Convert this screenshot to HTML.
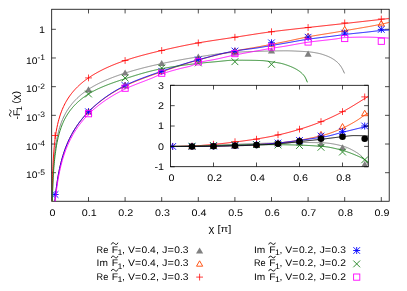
<!DOCTYPE html>
<html><head><meta charset="utf-8"><title>plot</title>
<style>html,body{margin:0;padding:0;background:#fff;width:407px;height:291px;overflow:hidden}</style></head>
<body>
<svg width="407" height="291" viewBox="0 0 407 291" style="display:block;position:absolute;left:0;top:0" font-family="Liberation Sans, sans-serif" font-size="9.6px" fill="#000" stroke-width="0.95" text-rendering="geometricPrecision">
<rect width="407" height="291" fill="#fff"/>
<defs><clipPath id="cm"><rect x="51.7" y="9.25" width="337.5" height="192.0"/></clipPath><clipPath id="ci"><rect x="170.5" y="85.3" width="197.8" height="81.39999999999999"/></clipPath></defs>
<path d="M88.50,201.25v-4.2M88.50,9.25v4.2M125.10,201.25v-4.2M125.10,9.25v4.2M161.70,201.25v-4.2M161.70,9.25v4.2M198.30,201.25v-4.2M198.30,9.25v4.2M234.90,201.25v-4.2M234.90,9.25v4.2M271.50,201.25v-4.2M271.50,9.25v4.2M308.10,201.25v-4.2M308.10,9.25v4.2M344.70,201.25v-4.2M344.70,9.25v4.2M381.30,201.25v-4.2M381.30,9.25v4.2M51.7,29.30h4.2M389.2,29.30h-4.2M51.7,57.98h4.2M389.2,57.98h-4.2M51.7,86.66h4.2M389.2,86.66h-4.2M51.7,115.34h4.2M389.2,115.34h-4.2M51.7,144.02h4.2M389.2,144.02h-4.2M51.7,172.70h4.2M389.2,172.70h-4.2" stroke="#000" stroke-width="0.7" fill="none"/>
<rect x="51.7" y="9.25" width="337.5" height="192.0" fill="none" stroke="#000" stroke-width="0.8"/>

















<path transform="translate(10.30,113.20) rotate(-90)" d="M-3.3,0.9C-2.6,-1.3 -1.2,-1.3 0,0C1.2,1.3 2.6,1.3 3.3,-0.9" fill="none" stroke="#000" stroke-width="0.9"/>
<g clip-path="url(#cm)">
<path d="M51.94,261.80 L51.94,259.85 L51.94,257.90 L51.95,255.95 L51.95,254.00 L51.95,252.05 L51.96,250.11 L51.96,248.16 L51.97,246.21 L51.97,244.26 L51.98,242.31 L51.99,240.36 L51.99,238.41 L52.00,236.46 L52.01,234.51 L52.02,232.56 L52.03,230.61 L52.04,228.66 L52.05,226.72 L52.06,224.77 L52.07,222.82 L52.09,220.87 L52.10,218.92 L52.12,216.97 L52.14,215.02 L52.16,213.07 L52.18,211.12 L52.20,209.17 L52.23,207.22 L52.25,205.27 L52.28,203.33 L52.31,201.38 L52.34,199.43 L52.38,197.48 L52.42,195.53 L52.46,193.58 L52.51,191.63 L52.56,189.68 L52.61,187.73 L52.67,185.78 L52.73,183.83 L52.80,181.88 L52.87,179.94 L52.95,177.99 L53.04,176.04 L53.13,174.09 L53.23,172.14 L53.33,170.19 L53.45,168.24 L53.58,166.29 L53.71,164.34 L53.86,162.39 L54.02,160.44 L54.19,158.49 L54.38,156.55 L54.58,154.60 L54.80,152.65 L55.03,150.70 L55.29,148.75 L55.56,146.80 L56.14,142.97 L56.72,139.64 L57.30,136.72 L57.88,134.10 L58.46,131.74 L59.03,129.59 L59.61,127.61 L60.19,125.78 L60.77,124.08 L61.35,122.49 L61.93,120.99 L62.51,119.59 L63.09,118.26 L63.67,117.01 L64.25,115.81 L64.82,114.67 L65.40,113.59 L65.98,112.55 L66.56,111.55 L67.14,110.60 L67.72,109.68 L68.30,108.79 L68.88,107.94 L69.46,107.12 L70.04,106.32 L70.61,105.55 L71.19,104.81 L71.77,104.08 L72.35,103.38 L72.93,102.70 L73.51,102.04 L74.09,101.40 L74.67,100.77 L75.25,100.16 L75.83,99.56 L76.41,98.98 L76.98,98.41 L77.56,97.86 L78.14,97.32 L78.72,96.79 L79.30,96.28 L79.88,95.77 L80.46,95.27 L81.04,94.79 L81.62,94.31 L82.20,93.85 L82.77,93.39 L83.35,92.94 L83.93,92.50 L84.51,92.07 L85.09,91.65 L85.67,91.23 L86.25,90.82 L86.83,90.42 L87.41,90.03 L87.99,89.64 L88.57,89.26 L89.14,88.88 L89.72,88.51 L90.30,88.15 L90.88,87.79 L91.46,87.44 L92.04,87.10 L92.62,86.76 L93.20,86.43 L93.78,86.10 L94.36,85.77 L94.93,85.46 L95.51,85.14 L96.09,84.83 L96.67,84.53 L97.25,84.23 L97.83,83.93 L98.41,83.64 L98.99,83.35 L99.57,83.06 L100.15,82.78 L100.72,82.50 L101.30,82.23 L101.88,81.96 L102.46,81.69 L103.04,81.43 L103.62,81.17 L104.20,80.91 L104.78,80.65 L105.36,80.40 L105.94,80.15 L106.52,79.90 L107.09,79.66 L107.67,79.42 L108.25,79.18 L108.83,78.94 L109.41,78.71 L109.99,78.47 L110.57,78.24 L111.15,78.02 L111.73,77.79 L112.31,77.57 L112.88,77.35 L113.46,77.13 L114.04,76.91 L114.62,76.70 L115.20,76.48 L115.78,76.27 L116.36,76.06 L116.94,75.86 L117.52,75.65 L118.10,75.45 L118.68,75.24 L119.25,75.04 L119.83,74.84 L120.41,74.64 L120.99,74.45 L121.57,74.25 L122.15,74.06 L122.73,73.87 L123.31,73.68 L123.89,73.49 L124.47,73.30 L125.04,73.12 L125.62,72.93 L126.20,72.75 L126.78,72.57 L127.36,72.39 L127.94,72.21 L128.52,72.03 L129.10,71.85 L129.68,71.68 L130.26,71.51 L130.83,71.33 L131.41,71.16 L131.99,70.99 L132.57,70.82 L133.15,70.66 L133.73,70.49 L134.31,70.32 L134.89,70.16 L135.47,70.00 L136.05,69.83 L136.63,69.67 L137.20,69.51 L137.78,69.35 L138.36,69.20 L138.94,69.04 L139.52,68.89 L140.10,68.73 L140.68,68.58 L141.26,68.42 L141.84,68.27 L142.42,68.12 L142.99,67.97 L143.57,67.82 L144.15,67.68 L144.73,67.53 L145.31,67.38 L145.89,67.24 L146.47,67.10 L147.05,66.95 L147.63,66.81 L148.21,66.67 L148.79,66.53 L149.36,66.39 L149.94,66.25 L150.52,66.11 L151.10,65.97 L151.68,65.84 L152.26,65.70 L152.84,65.57 L153.42,65.43 L154.00,65.30 L154.58,65.17 L155.15,65.04 L155.73,64.91 L156.31,64.78 L156.89,64.65 L157.47,64.52 L158.05,64.39 L158.63,64.26 L159.21,64.14 L159.79,64.01 L160.37,63.89 L160.94,63.76 L161.52,63.64 L162.10,63.51 L162.68,63.39 L163.26,63.27 L163.84,63.15 L164.42,63.03 L165.00,62.91 L165.58,62.78 L166.16,62.66 L166.74,62.54 L167.31,62.43 L167.89,62.31 L168.47,62.19 L169.05,62.07 L169.63,61.95 L170.21,61.84 L170.79,61.72 L171.37,61.61 L171.95,61.49 L172.53,61.38 L173.10,61.26 L173.68,61.15 L174.26,61.04 L174.84,60.92 L175.42,60.81 L176.00,60.70 L176.58,60.59 L177.16,60.48 L177.74,60.37 L178.32,60.26 L178.90,60.16 L179.47,60.05 L180.05,59.94 L180.63,59.84 L181.21,59.73 L181.79,59.62 L182.37,59.52 L182.95,59.42 L183.53,59.31 L184.11,59.21 L184.69,59.11 L185.26,59.01 L185.84,58.91 L186.42,58.81 L187.00,58.71 L187.58,58.61 L188.16,58.51 L188.74,58.41 L189.32,58.32 L189.90,58.22 L190.48,58.13 L191.05,58.03 L191.63,57.94 L192.21,57.84 L192.79,57.75 L193.37,57.66 L193.95,57.57 L194.53,57.48 L195.11,57.39 L195.69,57.30 L196.27,57.21 L196.85,57.12 L197.42,57.03 L198.00,56.94 L198.58,56.86 L199.16,56.77 L199.74,56.68 L200.32,56.60 L200.90,56.51 L201.48,56.42 L202.06,56.33 L202.64,56.24 L203.21,56.15 L203.79,56.06 L204.37,55.97 L204.95,55.88 L205.53,55.79 L206.11,55.70 L206.69,55.61 L207.27,55.52 L207.85,55.43 L208.43,55.34 L209.01,55.25 L209.58,55.16 L210.16,55.07 L210.74,54.99 L211.32,54.90 L211.90,54.81 L212.48,54.73 L213.06,54.64 L213.64,54.56 L214.22,54.48 L214.80,54.39 L215.37,54.31 L215.95,54.23 L216.53,54.15 L217.11,54.07 L217.69,53.99 L218.27,53.92 L218.85,53.84 L219.43,53.77 L220.01,53.69 L220.59,53.62 L221.16,53.55 L221.74,53.48 L222.32,53.41 L222.90,53.35 L223.48,53.28 L224.06,53.22 L224.64,53.15 L225.22,53.09 L225.80,53.03 L226.38,52.97 L226.96,52.92 L227.53,52.86 L228.11,52.81 L228.69,52.75 L229.27,52.70 L229.85,52.66 L230.43,52.61 L231.01,52.56 L231.59,52.52 L232.17,52.48 L232.75,52.44 L233.32,52.40 L233.90,52.36 L234.48,52.32 L235.06,52.29 L235.64,52.26 L236.22,52.23 L236.80,52.19 L237.38,52.16 L237.96,52.13 L238.54,52.10 L239.12,52.07 L239.69,52.04 L240.27,52.01 L240.85,51.99 L241.43,51.96 L242.01,51.93 L242.59,51.90 L243.17,51.88 L243.75,51.85 L244.33,51.82 L244.91,51.80 L245.48,51.77 L246.06,51.75 L246.64,51.72 L247.22,51.70 L247.80,51.68 L248.38,51.65 L248.96,51.63 L249.54,51.61 L250.12,51.59 L250.70,51.57 L251.27,51.54 L251.85,51.52 L252.43,51.50 L253.01,51.48 L253.59,51.46 L254.17,51.44 L254.75,51.42 L255.33,51.41 L255.91,51.39 L256.49,51.37 L257.07,51.35 L257.64,51.33 L258.22,51.32 L258.80,51.30 L259.38,51.28 L259.96,51.27 L260.54,51.25 L261.12,51.23 L261.70,51.22 L262.28,51.20 L262.86,51.19 L263.43,51.17 L264.01,51.16 L264.59,51.15 L265.17,51.13 L265.75,51.12 L266.33,51.11 L266.91,51.09 L267.49,51.08 L268.07,51.07 L268.65,51.06 L269.23,51.04 L269.80,51.03 L270.38,51.02 L270.96,51.01 L271.54,51.00 L272.12,50.99 L272.70,50.98 L273.28,50.97 L273.86,50.96 L274.44,50.94 L275.02,50.93 L275.59,50.92 L276.17,50.91 L276.75,50.90 L277.33,50.89 L277.91,50.88 L278.49,50.87 L279.07,50.86 L279.65,50.85 L280.23,50.84 L280.81,50.84 L281.38,50.83 L281.96,50.82 L282.54,50.82 L283.12,50.81 L283.70,50.81 L284.28,50.80 L284.86,50.80 L285.44,50.80 L286.02,50.80 L286.60,50.80 L287.18,50.80 L287.75,50.81 L288.33,50.82 L288.91,50.83 L289.49,50.85 L290.07,50.86 L290.65,50.88 L291.23,50.90 L291.81,50.92 L292.39,50.94 L292.97,50.97 L293.54,50.99 L294.12,51.02 L294.70,51.05 L295.28,51.07 L295.86,51.10 L296.44,51.13 L297.02,51.16 L297.60,51.19 L298.18,51.21 L298.76,51.24 L299.34,51.27 L299.91,51.30 L300.49,51.32 L301.07,51.35 L301.65,51.38 L302.23,51.41 L302.81,51.44 L303.39,51.47 L303.97,51.50 L304.55,51.53 L305.13,51.57 L305.70,51.61 L306.28,51.64 L306.86,51.69 L307.44,51.73 L308.02,51.78 L308.60,51.83 L309.18,51.88 L309.76,51.94 L310.34,52.00 L310.92,52.07 L311.49,52.15 L312.07,52.22 L312.65,52.31 L313.23,52.39 L313.81,52.48 L314.39,52.57 L314.97,52.67 L315.55,52.77 L316.13,52.88 L316.71,52.99 L317.29,53.10 L317.86,53.21 L318.44,53.33 L319.02,53.45 L319.60,53.58 L320.18,53.72 L320.76,53.88 L321.34,54.05 L321.92,54.22 L322.50,54.41 L323.08,54.60 L323.65,54.79 L324.23,54.99 L324.81,55.20 L325.39,55.40 L325.97,55.62 L326.55,55.84 L327.13,56.06 L327.71,56.30 L328.29,56.54 L328.87,56.80 L329.45,57.07 L330.02,57.34 L330.60,57.63 L331.18,57.94 L331.76,58.25 L332.34,58.59 L332.92,58.94 L333.50,59.30 L334.08,59.69 L334.66,60.09 L335.24,60.52 L335.81,60.97 L336.39,61.44 L336.97,61.94 L337.55,62.46 L338.13,63.01 L338.71,63.63 L339.29,64.30 L339.87,65.02 L340.45,65.80 L341.03,66.63 L341.60,67.52 L342.18,68.52 L342.76,69.62 L343.34,70.81 L343.92,72.07 L344.50,73.40" stroke="#808080" fill="none"/>
<path d="M88.50,86.30L92.10,92.40L84.90,92.40Z" fill="#808080" stroke="none"/>
<path d="M125.10,69.40L128.70,75.50L121.50,75.50Z" fill="#808080" stroke="none"/>
<path d="M161.70,59.90L165.30,66.00L158.10,66.00Z" fill="#808080" stroke="none"/>
<path d="M198.30,53.60L201.90,59.70L194.70,59.70Z" fill="#808080" stroke="none"/>
<path d="M234.90,49.40L238.50,55.50L231.30,55.50Z" fill="#808080" stroke="none"/>
<path d="M271.50,47.40L275.10,53.50L267.90,53.50Z" fill="#808080" stroke="none"/>
<path d="M308.10,50.60L311.70,56.70L304.50,56.70Z" fill="#808080" stroke="none"/>
<path d="M51.94,359.70 L51.94,356.90 L51.94,354.10 L51.95,351.30 L51.95,348.50 L51.95,345.70 L51.96,342.90 L51.96,340.10 L51.97,337.30 L51.97,334.50 L51.98,331.70 L51.99,328.90 L51.99,326.10 L52.00,323.30 L52.01,320.50 L52.02,317.70 L52.03,314.90 L52.04,312.10 L52.05,309.30 L52.06,306.50 L52.07,303.70 L52.09,300.90 L52.10,298.10 L52.12,295.30 L52.14,292.50 L52.16,289.70 L52.18,286.90 L52.20,284.10 L52.23,281.30 L52.25,278.50 L52.28,275.70 L52.31,272.90 L52.34,270.10 L52.38,267.30 L52.42,264.50 L52.46,261.70 L52.51,258.90 L52.56,256.10 L52.61,253.30 L52.67,250.50 L52.73,247.70 L52.80,244.90 L52.87,242.10 L52.95,239.30 L53.04,236.50 L53.13,233.70 L53.23,230.90 L53.33,228.10 L53.45,225.30 L53.58,222.50 L53.71,219.70 L53.86,216.90 L54.02,214.10 L54.19,211.30 L54.38,208.50 L54.58,205.70 L54.80,202.90 L55.03,200.10 L55.29,197.30 L55.56,194.50 L56.23,188.66 L56.90,183.63 L57.57,179.21 L58.23,175.27 L58.90,171.72 L59.57,168.48 L60.24,165.51 L60.91,162.76 L61.58,160.20 L62.25,157.80 L62.91,155.56 L63.58,153.44 L64.25,151.44 L64.92,149.54 L65.59,147.73 L66.26,146.01 L66.93,144.37 L67.60,142.79 L68.26,141.28 L68.93,139.83 L69.60,138.43 L70.27,137.09 L70.94,135.79 L71.61,134.53 L72.28,133.32 L72.94,132.15 L73.61,131.01 L74.28,129.90 L74.95,128.83 L75.62,127.78 L76.29,126.77 L76.96,125.78 L77.62,124.82 L78.29,123.88 L78.96,122.97 L79.63,122.08 L80.30,121.20 L80.97,120.35 L81.64,119.52 L82.30,118.70 L82.97,117.91 L83.64,117.13 L84.31,116.36 L84.98,115.61 L85.65,114.88 L86.32,114.16 L86.99,113.45 L87.65,112.76 L88.32,112.08 L88.99,111.41 L89.66,110.75 L90.33,110.10 L91.00,109.46 L91.67,108.83 L92.33,108.21 L93.00,107.59 L93.67,106.99 L94.34,106.39 L95.01,105.81 L95.68,105.23 L96.35,104.65 L97.01,104.09 L97.68,103.54 L98.35,102.99 L99.02,102.45 L99.69,101.91 L100.36,101.39 L101.03,100.87 L101.69,100.36 L102.36,99.85 L103.03,99.35 L103.70,98.86 L104.37,98.38 L105.04,97.90 L105.71,97.42 L106.37,96.96 L107.04,96.50 L107.71,96.04 L108.38,95.59 L109.05,95.15 L109.72,94.71 L110.39,94.28 L111.06,93.85 L111.72,93.43 L112.39,93.02 L113.06,92.61 L113.73,92.20 L114.40,91.80 L115.07,91.40 L115.74,91.01 L116.40,90.63 L117.07,90.24 L117.74,89.87 L118.41,89.50 L119.08,89.13 L119.75,88.76 L120.42,88.40 L121.08,88.05 L121.75,87.70 L122.42,87.35 L123.09,87.01 L123.76,86.67 L124.43,86.33 L125.10,86.00 L125.76,85.68 L126.43,85.35 L127.10,85.04 L127.77,84.72 L128.44,84.41 L129.11,84.11 L129.78,83.81 L130.45,83.51 L131.11,83.22 L131.78,82.93 L132.45,82.64 L133.12,82.36 L133.79,82.08 L134.46,81.80 L135.13,81.52 L135.79,81.25 L136.46,80.98 L137.13,80.71 L137.80,80.45 L138.47,80.19 L139.14,79.92 L139.81,79.66 L140.47,79.41 L141.14,79.15 L141.81,78.90 L142.48,78.65 L143.15,78.39 L143.82,78.14 L144.49,77.90 L145.15,77.65 L145.82,77.40 L146.49,77.16 L147.16,76.92 L147.83,76.67 L148.50,76.43 L149.17,76.19 L149.84,75.95 L150.50,75.72 L151.17,75.48 L151.84,75.24 L152.51,75.00 L153.18,74.77 L153.85,74.53 L154.52,74.30 L155.18,74.06 L155.85,73.83 L156.52,73.60 L157.19,73.36 L157.86,73.13 L158.53,72.90 L159.20,72.67 L159.86,72.44 L160.53,72.20 L161.20,71.97 L161.87,71.74 L162.54,71.51 L163.21,71.28 L163.88,71.05 L164.54,70.82 L165.21,70.58 L165.88,70.35 L166.55,70.12 L167.22,69.89 L167.89,69.66 L168.56,69.43 L169.22,69.20 L169.89,68.97 L170.56,68.74 L171.23,68.51 L171.90,68.28 L172.57,68.05 L173.24,67.82 L173.91,67.60 L174.57,67.37 L175.24,67.15 L175.91,66.92 L176.58,66.70 L177.25,66.47 L177.92,66.25 L178.59,66.03 L179.25,65.81 L179.92,65.59 L180.59,65.37 L181.26,65.15 L181.93,64.94 L182.60,64.72 L183.27,64.51 L183.93,64.29 L184.60,64.08 L185.27,63.87 L185.94,63.66 L186.61,63.45 L187.28,63.24 L187.95,63.04 L188.61,62.83 L189.28,62.63 L189.95,62.42 L190.62,62.22 L191.29,62.02 L191.96,61.82 L192.63,61.62 L193.30,61.43 L193.96,61.23 L194.63,61.04 L195.30,60.85 L195.97,60.66 L196.64,60.47 L197.31,60.28 L197.98,60.09 L198.64,59.90 L199.31,59.72 L199.98,59.53 L200.65,59.35 L201.32,59.17 L201.99,58.98 L202.66,58.80 L203.32,58.62 L203.99,58.43 L204.66,58.25 L205.33,58.07 L206.00,57.89 L206.67,57.71 L207.34,57.53 L208.00,57.36 L208.67,57.18 L209.34,57.00 L210.01,56.83 L210.68,56.65 L211.35,56.48 L212.02,56.30 L212.69,56.13 L213.35,55.96 L214.02,55.79 L214.69,55.62 L215.36,55.45 L216.03,55.28 L216.70,55.12 L217.37,54.95 L218.03,54.79 L218.70,54.62 L219.37,54.46 L220.04,54.30 L220.71,54.14 L221.38,53.98 L222.05,53.82 L222.71,53.66 L223.38,53.50 L224.05,53.35 L224.72,53.20 L225.39,53.04 L226.06,52.89 L226.73,52.74 L227.39,52.59 L228.06,52.44 L228.73,52.30 L229.40,52.15 L230.07,52.01 L230.74,51.86 L231.41,51.72 L232.07,51.58 L232.74,51.44 L233.41,51.30 L234.08,51.17 L234.75,51.03 L235.42,50.90 L236.09,50.76 L236.76,50.63 L237.42,50.51 L238.09,50.38 L238.76,50.26 L239.43,50.13 L240.10,50.01 L240.77,49.89 L241.44,49.77 L242.10,49.65 L242.77,49.54 L243.44,49.42 L244.11,49.31 L244.78,49.19 L245.45,49.08 L246.12,48.96 L246.78,48.85 L247.45,48.73 L248.12,48.62 L248.79,48.51 L249.46,48.39 L250.13,48.28 L250.80,48.17 L251.46,48.05 L252.13,47.94 L252.80,47.82 L253.47,47.71 L254.14,47.59 L254.81,47.47 L255.48,47.35 L256.15,47.24 L256.81,47.12 L257.48,46.99 L258.15,46.87 L258.82,46.75 L259.49,46.62 L260.16,46.50 L260.83,46.37 L261.49,46.24 L262.16,46.12 L262.83,45.99 L263.50,45.86 L264.17,45.73 L264.84,45.60 L265.51,45.47 L266.17,45.34 L266.84,45.21 L267.51,45.07 L268.18,44.94 L268.85,44.81 L269.52,44.68 L270.19,44.55 L270.85,44.42 L271.52,44.30 L272.19,44.17 L272.86,44.04 L273.53,43.91 L274.20,43.78 L274.87,43.66 L275.54,43.53 L276.20,43.40 L276.87,43.28 L277.54,43.15 L278.21,43.02 L278.88,42.90 L279.55,42.77 L280.22,42.64 L280.88,42.51 L281.55,42.38 L282.22,42.25 L282.89,42.12 L283.56,41.99 L284.23,41.85 L284.90,41.72 L285.56,41.59 L286.23,41.45 L286.90,41.31 L287.57,41.17 L288.24,41.03 L288.91,40.89 L289.58,40.74 L290.24,40.60 L290.91,40.45 L291.58,40.31 L292.25,40.16 L292.92,40.02 L293.59,39.87 L294.26,39.72 L294.92,39.57 L295.59,39.43 L296.26,39.28 L296.93,39.13 L297.60,38.99 L298.27,38.84 L298.94,38.70 L299.61,38.55 L300.27,38.41 L300.94,38.27 L301.61,38.13 L302.28,37.99 L302.95,37.85 L303.62,37.71 L304.29,37.57 L304.95,37.44 L305.62,37.31 L306.29,37.17 L306.96,37.04 L307.63,36.92 L308.30,36.79 L308.97,36.67 L309.63,36.54 L310.30,36.42 L310.97,36.30 L311.64,36.18 L312.31,36.07 L312.98,35.95 L313.65,35.83 L314.31,35.72 L314.98,35.61 L315.65,35.49 L316.32,35.38 L316.99,35.27 L317.66,35.16 L318.33,35.05 L319.00,34.94 L319.66,34.83 L320.33,34.72 L321.00,34.62 L321.67,34.51 L322.34,34.40 L323.01,34.29 L323.68,34.19 L324.34,34.08 L325.01,33.98 L325.68,33.87 L326.35,33.76 L327.02,33.66 L327.69,33.55 L328.36,33.44 L329.02,33.34 L329.69,33.23 L330.36,33.12 L331.03,33.01 L331.70,32.91 L332.37,32.80 L333.04,32.69 L333.70,32.58 L334.37,32.47 L335.04,32.36 L335.71,32.25 L336.38,32.14 L337.05,32.02 L337.72,31.91 L338.39,31.80 L339.05,31.69 L339.72,31.57 L340.39,31.46 L341.06,31.34 L341.73,31.23 L342.40,31.11 L343.07,31.00 L343.73,30.88 L344.40,30.76 L345.07,30.64 L345.74,30.53 L346.41,30.41 L347.08,30.29 L347.75,30.18 L348.41,30.06 L349.08,29.95 L349.75,29.83 L350.42,29.72 L351.09,29.60 L351.76,29.49 L352.43,29.38 L353.09,29.26 L353.76,29.15 L354.43,29.04 L355.10,28.92 L355.77,28.81 L356.44,28.70 L357.11,28.58 L357.77,28.47 L358.44,28.36 L359.11,28.24 L359.78,28.13 L360.45,28.01 L361.12,27.90 L361.79,27.79 L362.46,27.67 L363.12,27.56 L363.79,27.44 L364.46,27.32 L365.13,27.21 L365.80,27.09 L366.47,26.97 L367.14,26.86 L367.80,26.74 L368.47,26.62 L369.14,26.50 L369.81,26.38 L370.48,26.26 L371.15,26.14 L371.82,26.02 L372.48,25.89 L373.15,25.77 L373.82,25.65 L374.49,25.52 L375.16,25.40 L375.83,25.27 L376.50,25.14 L377.16,25.01 L377.83,24.88 L378.50,24.75 L379.17,24.62 L379.84,24.49 L380.51,24.36 L381.18,24.22 L381.85,24.09 L382.51,23.95 L383.18,23.80 L383.85,23.65 L384.52,23.50 L385.19,23.35 L385.86,23.19 L386.53,23.03 L387.19,22.88 L387.86,22.72 L388.53,22.56 L389.20,22.40" stroke="#ff4500" fill="none"/>
<path d="M88.50,108.65L91.60,114.05L85.40,114.05Z" fill="none" stroke="#ff4500" stroke-width="0.9"/>
<path d="M125.10,82.40L128.20,87.80L122.00,87.80Z" fill="none" stroke="#ff4500" stroke-width="0.9"/>
<path d="M161.70,68.15L164.80,73.55L158.60,73.55Z" fill="none" stroke="#ff4500" stroke-width="0.9"/>
<path d="M198.30,56.70L201.40,62.10L195.20,62.10Z" fill="none" stroke="#ff4500" stroke-width="0.9"/>
<path d="M234.90,47.90L238.00,53.30L231.80,53.30Z" fill="none" stroke="#ff4500" stroke-width="0.9"/>
<path d="M271.50,40.90L274.60,46.30L268.40,46.30Z" fill="none" stroke="#ff4500" stroke-width="0.9"/>
<path d="M308.10,33.15L311.20,38.55L305.00,38.55Z" fill="none" stroke="#ff4500" stroke-width="0.9"/>
<path d="M344.70,26.30L347.80,31.70L341.60,31.70Z" fill="none" stroke="#ff4500" stroke-width="0.9"/>
<path d="M381.30,20.50L384.40,25.90L378.20,25.90Z" fill="none" stroke="#ff4500" stroke-width="0.9"/>
<path d="M51.94,250.70 L51.94,248.75 L51.94,246.79 L51.95,244.84 L51.95,242.89 L51.95,240.94 L51.96,238.98 L51.96,237.03 L51.97,235.08 L51.97,233.13 L51.98,231.17 L51.99,229.22 L51.99,227.27 L52.00,225.32 L52.01,223.36 L52.02,221.41 L52.03,219.46 L52.04,217.51 L52.05,215.55 L52.06,213.60 L52.07,211.65 L52.09,209.70 L52.10,207.74 L52.12,205.79 L52.14,203.84 L52.16,201.89 L52.18,199.93 L52.20,197.98 L52.23,196.03 L52.25,194.08 L52.28,192.12 L52.31,190.17 L52.34,188.22 L52.38,186.27 L52.42,184.31 L52.46,182.36 L52.51,180.41 L52.56,178.46 L52.61,176.50 L52.67,174.55 L52.73,172.60 L52.80,170.65 L52.87,168.69 L52.95,166.74 L53.04,164.79 L53.13,162.84 L53.23,160.88 L53.33,158.93 L53.45,156.98 L53.58,155.03 L53.71,153.07 L53.86,151.12 L54.02,149.17 L54.19,147.22 L54.38,145.26 L54.58,143.31 L54.80,141.36 L55.03,139.41 L55.29,137.45 L55.56,135.50 L56.23,131.31 L56.90,127.73 L57.57,124.59 L58.23,121.80 L58.90,119.30 L59.57,117.02 L60.24,114.93 L60.91,113.00 L61.58,111.21 L62.25,109.54 L62.91,107.97 L63.58,106.50 L64.25,105.11 L64.92,103.79 L65.59,102.53 L66.26,101.34 L66.93,100.20 L67.60,99.11 L68.26,98.07 L68.93,97.06 L69.60,96.10 L70.27,95.17 L70.94,94.28 L71.61,93.41 L72.28,92.58 L72.94,91.77 L73.61,90.98 L74.28,90.22 L74.95,89.49 L75.62,88.77 L76.29,88.07 L76.96,87.40 L77.62,86.74 L78.29,86.09 L78.96,85.47 L79.63,84.86 L80.30,84.26 L80.97,83.68 L81.64,83.11 L82.30,82.55 L82.97,82.00 L83.64,81.47 L84.31,80.95 L84.98,80.44 L85.65,79.93 L86.32,79.44 L86.99,78.96 L87.65,78.49 L88.32,78.02 L88.99,77.57 L89.66,77.12 L90.33,76.68 L91.00,76.24 L91.67,75.82 L92.33,75.40 L93.00,74.99 L93.67,74.58 L94.34,74.18 L95.01,73.79 L95.68,73.40 L96.35,73.02 L97.01,72.64 L97.68,72.27 L98.35,71.91 L99.02,71.55 L99.69,71.19 L100.36,70.84 L101.03,70.50 L101.69,70.16 L102.36,69.82 L103.03,69.49 L103.70,69.16 L104.37,68.84 L105.04,68.52 L105.71,68.21 L106.37,67.90 L107.04,67.59 L107.71,67.29 L108.38,66.99 L109.05,66.69 L109.72,66.40 L110.39,66.11 L111.06,65.82 L111.72,65.54 L112.39,65.26 L113.06,64.99 L113.73,64.72 L114.40,64.45 L115.07,64.18 L115.74,63.92 L116.40,63.65 L117.07,63.40 L117.74,63.14 L118.41,62.89 L119.08,62.64 L119.75,62.39 L120.42,62.15 L121.08,61.90 L121.75,61.67 L122.42,61.43 L123.09,61.19 L123.76,60.96 L124.43,60.73 L125.10,60.50 L125.76,60.28 L126.43,60.05 L127.10,59.83 L127.77,59.61 L128.44,59.40 L129.11,59.18 L129.78,58.97 L130.45,58.76 L131.11,58.55 L131.78,58.35 L132.45,58.14 L133.12,57.94 L133.79,57.74 L134.46,57.54 L135.13,57.35 L135.79,57.15 L136.46,56.96 L137.13,56.77 L137.80,56.58 L138.47,56.39 L139.14,56.20 L139.81,56.01 L140.47,55.83 L141.14,55.65 L141.81,55.46 L142.48,55.28 L143.15,55.10 L143.82,54.93 L144.49,54.75 L145.15,54.57 L145.82,54.40 L146.49,54.22 L147.16,54.05 L147.83,53.88 L148.50,53.71 L149.17,53.54 L149.84,53.37 L150.50,53.20 L151.17,53.03 L151.84,52.87 L152.51,52.70 L153.18,52.54 L153.85,52.37 L154.52,52.21 L155.18,52.05 L155.85,51.89 L156.52,51.72 L157.19,51.56 L157.86,51.40 L158.53,51.25 L159.20,51.09 L159.86,50.93 L160.53,50.77 L161.20,50.62 L161.87,50.46 L162.54,50.31 L163.21,50.15 L163.88,50.00 L164.54,49.84 L165.21,49.69 L165.88,49.53 L166.55,49.38 L167.22,49.23 L167.89,49.08 L168.56,48.93 L169.22,48.78 L169.89,48.63 L170.56,48.48 L171.23,48.33 L171.90,48.18 L172.57,48.03 L173.24,47.88 L173.91,47.74 L174.57,47.59 L175.24,47.45 L175.91,47.30 L176.58,47.16 L177.25,47.02 L177.92,46.87 L178.59,46.73 L179.25,46.59 L179.92,46.45 L180.59,46.31 L181.26,46.17 L181.93,46.03 L182.60,45.90 L183.27,45.76 L183.93,45.62 L184.60,45.49 L185.27,45.35 L185.94,45.22 L186.61,45.09 L187.28,44.96 L187.95,44.83 L188.61,44.70 L189.28,44.57 L189.95,44.44 L190.62,44.31 L191.29,44.18 L191.96,44.06 L192.63,43.93 L193.30,43.81 L193.96,43.68 L194.63,43.56 L195.30,43.44 L195.97,43.32 L196.64,43.20 L197.31,43.08 L197.98,42.96 L198.64,42.84 L199.31,42.72 L199.98,42.61 L200.65,42.49 L201.32,42.38 L201.99,42.27 L202.66,42.15 L203.32,42.04 L203.99,41.93 L204.66,41.82 L205.33,41.72 L206.00,41.61 L206.67,41.50 L207.34,41.39 L208.00,41.29 L208.67,41.18 L209.34,41.08 L210.01,40.97 L210.68,40.87 L211.35,40.77 L212.02,40.67 L212.69,40.56 L213.35,40.46 L214.02,40.36 L214.69,40.26 L215.36,40.16 L216.03,40.06 L216.70,39.96 L217.37,39.86 L218.03,39.76 L218.70,39.66 L219.37,39.56 L220.04,39.46 L220.71,39.36 L221.38,39.26 L222.05,39.16 L222.71,39.06 L223.38,38.96 L224.05,38.86 L224.72,38.77 L225.39,38.67 L226.06,38.57 L226.73,38.47 L227.39,38.37 L228.06,38.27 L228.73,38.17 L229.40,38.07 L230.07,37.97 L230.74,37.87 L231.41,37.77 L232.07,37.67 L232.74,37.57 L233.41,37.47 L234.08,37.37 L234.75,37.27 L235.42,37.17 L236.09,37.07 L236.76,36.97 L237.42,36.87 L238.09,36.76 L238.76,36.66 L239.43,36.56 L240.10,36.45 L240.77,36.35 L241.44,36.24 L242.10,36.14 L242.77,36.03 L243.44,35.93 L244.11,35.82 L244.78,35.72 L245.45,35.61 L246.12,35.51 L246.78,35.40 L247.45,35.30 L248.12,35.19 L248.79,35.09 L249.46,34.98 L250.13,34.88 L250.80,34.77 L251.46,34.67 L252.13,34.56 L252.80,34.46 L253.47,34.36 L254.14,34.25 L254.81,34.15 L255.48,34.05 L256.15,33.94 L256.81,33.84 L257.48,33.74 L258.15,33.64 L258.82,33.54 L259.49,33.44 L260.16,33.34 L260.83,33.24 L261.49,33.14 L262.16,33.05 L262.83,32.95 L263.50,32.85 L264.17,32.76 L264.84,32.66 L265.51,32.57 L266.17,32.47 L266.84,32.38 L267.51,32.29 L268.18,32.19 L268.85,32.10 L269.52,32.01 L270.19,31.92 L270.85,31.83 L271.52,31.75 L272.19,31.66 L272.86,31.57 L273.53,31.49 L274.20,31.40 L274.87,31.32 L275.54,31.23 L276.20,31.15 L276.87,31.07 L277.54,30.98 L278.21,30.90 L278.88,30.82 L279.55,30.74 L280.22,30.66 L280.88,30.58 L281.55,30.50 L282.22,30.42 L282.89,30.34 L283.56,30.26 L284.23,30.18 L284.90,30.11 L285.56,30.03 L286.23,29.95 L286.90,29.88 L287.57,29.80 L288.24,29.72 L288.91,29.65 L289.58,29.57 L290.24,29.49 L290.91,29.42 L291.58,29.34 L292.25,29.27 L292.92,29.19 L293.59,29.12 L294.26,29.04 L294.92,28.97 L295.59,28.89 L296.26,28.82 L296.93,28.74 L297.60,28.67 L298.27,28.60 L298.94,28.52 L299.61,28.45 L300.27,28.37 L300.94,28.30 L301.61,28.22 L302.28,28.15 L302.95,28.08 L303.62,28.00 L304.29,27.93 L304.95,27.85 L305.62,27.78 L306.29,27.70 L306.96,27.63 L307.63,27.55 L308.30,27.48 L308.97,27.40 L309.63,27.33 L310.30,27.25 L310.97,27.18 L311.64,27.11 L312.31,27.03 L312.98,26.96 L313.65,26.88 L314.31,26.81 L314.98,26.74 L315.65,26.66 L316.32,26.59 L316.99,26.52 L317.66,26.44 L318.33,26.37 L319.00,26.30 L319.66,26.22 L320.33,26.15 L321.00,26.08 L321.67,26.01 L322.34,25.93 L323.01,25.86 L323.68,25.79 L324.34,25.72 L325.01,25.64 L325.68,25.57 L326.35,25.50 L327.02,25.43 L327.69,25.35 L328.36,25.28 L329.02,25.21 L329.69,25.14 L330.36,25.06 L331.03,24.99 L331.70,24.92 L332.37,24.85 L333.04,24.77 L333.70,24.70 L334.37,24.63 L335.04,24.56 L335.71,24.48 L336.38,24.41 L337.05,24.34 L337.72,24.26 L338.39,24.19 L339.05,24.12 L339.72,24.05 L340.39,23.97 L341.06,23.90 L341.73,23.83 L342.40,23.75 L343.07,23.68 L343.73,23.61 L344.40,23.53 L345.07,23.46 L345.74,23.39 L346.41,23.31 L347.08,23.24 L347.75,23.16 L348.41,23.09 L349.08,23.01 L349.75,22.94 L350.42,22.87 L351.09,22.79 L351.76,22.72 L352.43,22.64 L353.09,22.57 L353.76,22.49 L354.43,22.42 L355.10,22.34 L355.77,22.27 L356.44,22.19 L357.11,22.12 L357.77,22.04 L358.44,21.97 L359.11,21.89 L359.78,21.82 L360.45,21.74 L361.12,21.67 L361.79,21.59 L362.46,21.52 L363.12,21.44 L363.79,21.37 L364.46,21.29 L365.13,21.21 L365.80,21.14 L366.47,21.06 L367.14,20.99 L367.80,20.91 L368.47,20.84 L369.14,20.76 L369.81,20.69 L370.48,20.61 L371.15,20.54 L371.82,20.46 L372.48,20.39 L373.15,20.31 L373.82,20.24 L374.49,20.16 L375.16,20.09 L375.83,20.01 L376.50,19.94 L377.16,19.86 L377.83,19.79 L378.50,19.71 L379.17,19.64 L379.84,19.56 L380.51,19.49 L381.18,19.41 L381.85,19.34 L382.51,19.26 L383.18,19.19 L383.85,19.11 L384.52,19.04 L385.19,18.96 L385.86,18.88 L386.53,18.81 L387.19,18.73 L387.86,18.65 L388.53,18.58 L389.20,18.50" stroke="#ff0000" fill="none"/>
<path d="M51.68,135.50H58.48M55.08,132.10V138.90" stroke="#ff0000" stroke-width="0.75" fill="none"/>
<path d="M85.10,77.90H91.90M88.50,74.50V81.30" stroke="#ff0000" stroke-width="0.75" fill="none"/>
<path d="M121.70,60.50H128.50M125.10,57.10V63.90" stroke="#ff0000" stroke-width="0.75" fill="none"/>
<path d="M158.30,50.50H165.10M161.70,47.10V53.90" stroke="#ff0000" stroke-width="0.75" fill="none"/>
<path d="M194.90,42.90H201.70M198.30,39.50V46.30" stroke="#ff0000" stroke-width="0.75" fill="none"/>
<path d="M231.50,37.25H238.30M234.90,33.85V40.65" stroke="#ff0000" stroke-width="0.75" fill="none"/>
<path d="M268.10,31.75H274.90M271.50,28.35V35.15" stroke="#ff0000" stroke-width="0.75" fill="none"/>
<path d="M304.70,27.50H311.50M308.10,24.10V30.90" stroke="#ff0000" stroke-width="0.75" fill="none"/>
<path d="M341.30,22.90H348.10M344.70,19.50V26.30" stroke="#ff0000" stroke-width="0.75" fill="none"/>
<path d="M377.90,19.00H384.70M381.30,15.60V22.40" stroke="#ff0000" stroke-width="0.75" fill="none"/>
<path d="M51.94,360.00 L51.94,357.19 L51.94,354.39 L51.95,351.58 L51.95,348.78 L51.95,345.97 L51.96,343.17 L51.96,340.36 L51.97,337.56 L51.97,334.75 L51.98,331.95 L51.99,329.14 L51.99,326.34 L52.00,323.53 L52.01,320.73 L52.02,317.92 L52.03,315.12 L52.04,312.31 L52.05,309.51 L52.06,306.70 L52.07,303.90 L52.09,301.09 L52.10,298.29 L52.12,295.48 L52.14,292.68 L52.16,289.87 L52.18,287.07 L52.20,284.26 L52.23,281.46 L52.25,278.65 L52.28,275.85 L52.31,273.04 L52.34,270.24 L52.38,267.43 L52.42,264.63 L52.46,261.82 L52.51,259.02 L52.56,256.21 L52.61,253.41 L52.67,250.60 L52.73,247.80 L52.80,244.99 L52.87,242.19 L52.95,239.38 L53.04,236.58 L53.13,233.77 L53.23,230.97 L53.33,228.16 L53.45,225.36 L53.58,222.55 L53.71,219.75 L53.86,216.94 L54.02,214.14 L54.19,211.33 L54.38,208.53 L54.58,205.72 L54.80,202.92 L55.03,200.11 L55.29,197.31 L55.56,194.50 L56.23,188.70 L56.90,183.69 L57.57,179.30 L58.23,175.37 L58.90,171.82 L59.57,168.59 L60.24,165.62 L60.91,162.86 L61.58,160.30 L62.25,157.91 L62.91,155.66 L63.58,153.53 L64.25,151.53 L64.92,149.62 L65.59,147.81 L66.26,146.08 L66.93,144.43 L67.60,142.85 L68.26,141.33 L68.93,139.87 L69.60,138.47 L70.27,137.12 L70.94,135.81 L71.61,134.55 L72.28,133.33 L72.94,132.15 L73.61,131.00 L74.28,129.89 L74.95,128.81 L75.62,127.76 L76.29,126.74 L76.96,125.74 L77.62,124.77 L78.29,123.83 L78.96,122.91 L79.63,122.01 L80.30,121.13 L80.97,120.27 L81.64,119.43 L82.30,118.61 L82.97,117.81 L83.64,117.02 L84.31,116.25 L84.98,115.49 L85.65,114.75 L86.32,114.03 L86.99,113.32 L87.65,112.62 L88.32,111.93 L88.99,111.26 L89.66,110.59 L90.33,109.93 L91.00,109.29 L91.67,108.65 L92.33,108.02 L93.00,107.40 L93.67,106.78 L94.34,106.18 L95.01,105.58 L95.68,105.00 L96.35,104.42 L97.01,103.85 L97.68,103.28 L98.35,102.72 L99.02,102.18 L99.69,101.63 L100.36,101.10 L101.03,100.57 L101.69,100.05 L102.36,99.54 L103.03,99.03 L103.70,98.53 L104.37,98.04 L105.04,97.55 L105.71,97.07 L106.37,96.60 L107.04,96.13 L107.71,95.67 L108.38,95.21 L109.05,94.76 L109.72,94.32 L110.39,93.88 L111.06,93.45 L111.72,93.02 L112.39,92.60 L113.06,92.18 L113.73,91.77 L114.40,91.36 L115.07,90.96 L115.74,90.57 L116.40,90.18 L117.07,89.79 L117.74,89.41 L118.41,89.03 L119.08,88.66 L119.75,88.29 L120.42,87.93 L121.08,87.57 L121.75,87.21 L122.42,86.86 L123.09,86.52 L123.76,86.17 L124.43,85.84 L125.10,85.50 L125.76,85.17 L126.43,84.85 L127.10,84.53 L127.77,84.21 L128.44,83.90 L129.11,83.59 L129.78,83.29 L130.45,82.99 L131.11,82.69 L131.78,82.40 L132.45,82.11 L133.12,81.82 L133.79,81.54 L134.46,81.26 L135.13,80.98 L135.79,80.71 L136.46,80.43 L137.13,80.16 L137.80,79.90 L138.47,79.63 L139.14,79.37 L139.81,79.11 L140.47,78.85 L141.14,78.59 L141.81,78.33 L142.48,78.08 L143.15,77.83 L143.82,77.58 L144.49,77.33 L145.15,77.08 L145.82,76.83 L146.49,76.59 L147.16,76.34 L147.83,76.10 L148.50,75.86 L149.17,75.62 L149.84,75.38 L150.50,75.14 L151.17,74.90 L151.84,74.66 L152.51,74.43 L153.18,74.19 L153.85,73.96 L154.52,73.73 L155.18,73.49 L155.85,73.26 L156.52,73.03 L157.19,72.80 L157.86,72.57 L158.53,72.34 L159.20,72.11 L159.86,71.88 L160.53,71.65 L161.20,71.42 L161.87,71.19 L162.54,70.96 L163.21,70.74 L163.88,70.51 L164.54,70.28 L165.21,70.05 L165.88,69.83 L166.55,69.60 L167.22,69.38 L167.89,69.15 L168.56,68.93 L169.22,68.70 L169.89,68.48 L170.56,68.25 L171.23,68.03 L171.90,67.81 L172.57,67.59 L173.24,67.37 L173.91,67.15 L174.57,66.93 L175.24,66.71 L175.91,66.49 L176.58,66.28 L177.25,66.06 L177.92,65.85 L178.59,65.63 L179.25,65.42 L179.92,65.21 L180.59,65.00 L181.26,64.79 L181.93,64.58 L182.60,64.37 L183.27,64.16 L183.93,63.96 L184.60,63.75 L185.27,63.55 L185.94,63.35 L186.61,63.14 L187.28,62.94 L187.95,62.74 L188.61,62.55 L189.28,62.35 L189.95,62.15 L190.62,61.96 L191.29,61.76 L191.96,61.57 L192.63,61.38 L193.30,61.19 L193.96,61.00 L194.63,60.81 L195.30,60.62 L195.97,60.44 L196.64,60.25 L197.31,60.07 L197.98,59.89 L198.64,59.71 L199.31,59.53 L199.98,59.34 L200.65,59.16 L201.32,58.98 L201.99,58.80 L202.66,58.61 L203.32,58.43 L203.99,58.25 L204.66,58.06 L205.33,57.88 L206.00,57.70 L206.67,57.52 L207.34,57.34 L208.00,57.16 L208.67,56.98 L209.34,56.80 L210.01,56.62 L210.68,56.44 L211.35,56.27 L212.02,56.09 L212.69,55.91 L213.35,55.74 L214.02,55.57 L214.69,55.40 L215.36,55.23 L216.03,55.06 L216.70,54.89 L217.37,54.72 L218.03,54.56 L218.70,54.40 L219.37,54.23 L220.04,54.07 L220.71,53.92 L221.38,53.76 L222.05,53.60 L222.71,53.45 L223.38,53.30 L224.05,53.15 L224.72,53.00 L225.39,52.85 L226.06,52.71 L226.73,52.57 L227.39,52.43 L228.06,52.29 L228.73,52.15 L229.40,52.02 L230.07,51.89 L230.74,51.76 L231.41,51.63 L232.07,51.51 L232.74,51.38 L233.41,51.26 L234.08,51.14 L234.75,51.03 L235.42,50.91 L236.09,50.80 L236.76,50.69 L237.42,50.59 L238.09,50.49 L238.76,50.39 L239.43,50.29 L240.10,50.20 L240.77,50.10 L241.44,50.01 L242.10,49.92 L242.77,49.83 L243.44,49.74 L244.11,49.66 L244.78,49.57 L245.45,49.48 L246.12,49.40 L246.78,49.31 L247.45,49.23 L248.12,49.14 L248.79,49.06 L249.46,48.97 L250.13,48.89 L250.80,48.80 L251.46,48.72 L252.13,48.63 L252.80,48.54 L253.47,48.45 L254.14,48.36 L254.81,48.26 L255.48,48.17 L256.15,48.07 L256.81,47.98 L257.48,47.88 L258.15,47.78 L258.82,47.67 L259.49,47.57 L260.16,47.46 L260.83,47.35 L261.49,47.24 L262.16,47.13 L262.83,47.01 L263.50,46.90 L264.17,46.78 L264.84,46.66 L265.51,46.55 L266.17,46.43 L266.84,46.31 L267.51,46.19 L268.18,46.08 L268.85,45.96 L269.52,45.84 L270.19,45.73 L270.85,45.61 L271.52,45.50 L272.19,45.38 L272.86,45.27 L273.53,45.15 L274.20,45.04 L274.87,44.93 L275.54,44.81 L276.20,44.70 L276.87,44.59 L277.54,44.47 L278.21,44.36 L278.88,44.25 L279.55,44.13 L280.22,44.02 L280.88,43.90 L281.55,43.79 L282.22,43.68 L282.89,43.56 L283.56,43.45 L284.23,43.33 L284.90,43.22 L285.56,43.10 L286.23,42.99 L286.90,42.87 L287.57,42.75 L288.24,42.63 L288.91,42.51 L289.58,42.39 L290.24,42.27 L290.91,42.15 L291.58,42.03 L292.25,41.91 L292.92,41.79 L293.59,41.67 L294.26,41.55 L294.92,41.43 L295.59,41.31 L296.26,41.19 L296.93,41.07 L297.60,40.95 L298.27,40.83 L298.94,40.71 L299.61,40.60 L300.27,40.48 L300.94,40.37 L301.61,40.25 L302.28,40.14 L302.95,40.03 L303.62,39.92 L304.29,39.81 L304.95,39.71 L305.62,39.60 L306.29,39.50 L306.96,39.39 L307.63,39.29 L308.30,39.19 L308.97,39.10 L309.63,39.00 L310.30,38.91 L310.97,38.81 L311.64,38.72 L312.31,38.63 L312.98,38.54 L313.65,38.45 L314.31,38.37 L314.98,38.28 L315.65,38.19 L316.32,38.11 L316.99,38.03 L317.66,37.94 L318.33,37.86 L319.00,37.78 L319.66,37.70 L320.33,37.62 L321.00,37.53 L321.67,37.45 L322.34,37.37 L323.01,37.29 L323.68,37.21 L324.34,37.13 L325.01,37.05 L325.68,36.98 L326.35,36.90 L327.02,36.82 L327.69,36.73 L328.36,36.65 L329.02,36.57 L329.69,36.49 L330.36,36.41 L331.03,36.33 L331.70,36.25 L332.37,36.16 L333.04,36.08 L333.70,36.00 L334.37,35.91 L335.04,35.82 L335.71,35.74 L336.38,35.65 L337.05,35.56 L337.72,35.47 L338.39,35.37 L339.05,35.28 L339.72,35.19 L340.39,35.09 L341.06,35.00 L341.73,34.90 L342.40,34.81 L343.07,34.72 L343.73,34.63 L344.40,34.54 L345.07,34.46 L345.74,34.38 L346.41,34.30 L347.08,34.22 L347.75,34.14 L348.41,34.07 L349.08,33.99 L349.75,33.91 L350.42,33.84 L351.09,33.77 L351.76,33.70 L352.43,33.62 L353.09,33.55 L353.76,33.48 L354.43,33.41 L355.10,33.34 L355.77,33.27 L356.44,33.20 L357.11,33.13 L357.77,33.07 L358.44,33.00 L359.11,32.93 L359.78,32.86 L360.45,32.79 L361.12,32.72 L361.79,32.65 L362.46,32.58 L363.12,32.51 L363.79,32.44 L364.46,32.37 L365.13,32.30 L365.80,32.23 L366.47,32.16 L367.14,32.09 L367.80,32.01 L368.47,31.93 L369.14,31.85 L369.81,31.77 L370.48,31.69 L371.15,31.61 L371.82,31.53 L372.48,31.45 L373.15,31.36 L373.82,31.28 L374.49,31.20 L375.16,31.12 L375.83,31.04 L376.50,30.97 L377.16,30.89 L377.83,30.82 L378.50,30.75 L379.17,30.69 L379.84,30.62 L380.51,30.57 L381.18,30.51 L381.85,30.46 L382.51,30.41 L383.18,30.36 L383.85,30.31 L384.52,30.27 L385.19,30.22 L385.86,30.18 L386.53,30.14 L387.19,30.10 L387.86,30.07 L388.53,30.03 L389.20,30.00" stroke="#0000ff" fill="none"/>
<path d="M51.58,194.50H58.58M55.08,191.00V198.00" stroke="#0000ff" stroke-width="0.9" fill="none"/><path d="M51.76,191.18L58.41,197.82M51.76,197.82L58.41,191.18" stroke="#0000ff" stroke-width="0.9" fill="none"/>
<path d="M85.00,111.75H92.00M88.50,108.25V115.25" stroke="#0000ff" stroke-width="0.9" fill="none"/><path d="M85.17,108.42L91.83,115.08M85.17,115.08L91.83,108.42" stroke="#0000ff" stroke-width="0.9" fill="none"/>
<path d="M121.60,85.50H128.60M125.10,82.00V89.00" stroke="#0000ff" stroke-width="0.9" fill="none"/><path d="M121.77,82.17L128.42,88.83M121.77,88.83L128.42,82.17" stroke="#0000ff" stroke-width="0.9" fill="none"/>
<path d="M158.20,71.25H165.20M161.70,67.75V74.75" stroke="#0000ff" stroke-width="0.9" fill="none"/><path d="M158.38,67.92L165.02,74.58M158.38,74.58L165.02,67.92" stroke="#0000ff" stroke-width="0.9" fill="none"/>
<path d="M194.80,59.80H201.80M198.30,56.30V63.30" stroke="#0000ff" stroke-width="0.9" fill="none"/><path d="M194.98,56.47L201.62,63.12M194.98,63.12L201.62,56.47" stroke="#0000ff" stroke-width="0.9" fill="none"/>
<path d="M231.40,51.00H238.40M234.90,47.50V54.50" stroke="#0000ff" stroke-width="0.9" fill="none"/><path d="M231.58,47.67L238.22,54.33M231.58,54.33L238.22,47.67" stroke="#0000ff" stroke-width="0.9" fill="none"/>
<path d="M268.00,42.80H275.00M271.50,39.30V46.30" stroke="#0000ff" stroke-width="0.9" fill="none"/><path d="M268.18,39.47L274.82,46.12M268.18,46.12L274.82,39.47" stroke="#0000ff" stroke-width="0.9" fill="none"/>
<path d="M304.60,37.20H311.60M308.10,33.70V40.70" stroke="#0000ff" stroke-width="0.9" fill="none"/><path d="M304.77,33.88L311.42,40.53M304.77,40.53L311.42,33.88" stroke="#0000ff" stroke-width="0.9" fill="none"/>
<path d="M341.20,33.10H348.20M344.70,29.60V36.60" stroke="#0000ff" stroke-width="0.9" fill="none"/><path d="M341.38,29.78L348.02,36.43M341.38,36.43L348.02,29.78" stroke="#0000ff" stroke-width="0.9" fill="none"/>
<path d="M377.80,29.40H384.80M381.30,25.90V32.90" stroke="#0000ff" stroke-width="0.9" fill="none"/><path d="M377.98,26.07L384.62,32.73M377.98,32.73L384.62,26.07" stroke="#0000ff" stroke-width="0.9" fill="none"/>
<path d="M51.94,267.40 L51.94,265.44 L51.94,263.48 L51.95,261.52 L51.95,259.56 L51.95,257.60 L51.96,255.64 L51.96,253.68 L51.97,251.73 L51.97,249.77 L51.98,247.81 L51.99,245.85 L51.99,243.89 L52.00,241.93 L52.01,239.97 L52.02,238.01 L52.03,236.05 L52.04,234.09 L52.05,232.13 L52.06,230.17 L52.07,228.21 L52.09,226.25 L52.10,224.29 L52.12,222.34 L52.14,220.38 L52.16,218.42 L52.18,216.46 L52.20,214.50 L52.23,212.54 L52.25,210.58 L52.28,208.62 L52.31,206.66 L52.34,204.70 L52.38,202.74 L52.42,200.78 L52.46,198.82 L52.51,196.86 L52.56,194.91 L52.61,192.95 L52.67,190.99 L52.73,189.03 L52.80,187.07 L52.87,185.11 L52.95,183.15 L53.04,181.19 L53.13,179.23 L53.23,177.27 L53.33,175.31 L53.45,173.35 L53.58,171.39 L53.71,169.43 L53.86,167.47 L54.02,165.52 L54.19,163.56 L54.38,161.60 L54.58,159.64 L54.80,157.68 L55.03,155.72 L55.29,153.76 L55.56,151.80 L56.06,148.28 L56.57,145.19 L57.07,142.44 L57.58,139.98 L58.08,137.73 L58.59,135.68 L59.09,133.79 L59.60,132.04 L60.10,130.41 L60.61,128.88 L61.11,127.44 L61.62,126.09 L62.12,124.81 L62.63,123.60 L63.13,122.44 L63.64,121.34 L64.14,120.29 L64.64,119.29 L65.15,118.33 L65.65,117.40 L66.16,116.52 L66.66,115.66 L67.17,114.84 L67.67,114.04 L68.18,113.27 L68.68,112.53 L69.19,111.81 L69.69,111.11 L70.20,110.43 L70.70,109.77 L71.21,109.13 L71.71,108.51 L72.21,107.90 L72.72,107.31 L73.22,106.74 L73.73,106.18 L74.23,105.63 L74.74,105.10 L75.24,104.58 L75.75,104.07 L76.25,103.57 L76.76,103.08 L77.26,102.61 L77.77,102.14 L78.27,101.68 L78.78,101.23 L79.28,100.79 L79.79,100.36 L80.29,99.94 L80.79,99.53 L81.30,99.12 L81.80,98.72 L82.31,98.33 L82.81,97.94 L83.32,97.56 L83.82,97.19 L84.33,96.82 L84.83,96.46 L85.34,96.10 L85.84,95.75 L86.35,95.41 L86.85,95.07 L87.36,94.74 L87.86,94.41 L88.36,94.09 L88.87,93.77 L89.37,93.45 L89.88,93.15 L90.38,92.85 L90.89,92.55 L91.39,92.26 L91.90,91.98 L92.40,91.70 L92.91,91.42 L93.41,91.15 L93.92,90.88 L94.42,90.62 L94.93,90.36 L95.43,90.10 L95.94,89.85 L96.44,89.60 L96.94,89.36 L97.45,89.12 L97.95,88.88 L98.46,88.64 L98.96,88.41 L99.47,88.18 L99.97,87.95 L100.48,87.73 L100.98,87.51 L101.49,87.29 L101.99,87.07 L102.50,86.85 L103.00,86.64 L103.51,86.43 L104.01,86.22 L104.51,86.01 L105.02,85.81 L105.52,85.61 L106.03,85.41 L106.53,85.21 L107.04,85.01 L107.54,84.81 L108.05,84.62 L108.55,84.42 L109.06,84.23 L109.56,84.04 L110.07,83.85 L110.57,83.67 L111.08,83.48 L111.58,83.29 L112.09,83.11 L112.59,82.93 L113.09,82.75 L113.60,82.57 L114.10,82.39 L114.61,82.21 L115.11,82.03 L115.62,81.86 L116.12,81.68 L116.63,81.51 L117.13,81.33 L117.64,81.16 L118.14,80.99 L118.65,80.82 L119.15,80.65 L119.66,80.48 L120.16,80.31 L120.66,80.14 L121.17,79.98 L121.67,79.81 L122.18,79.64 L122.68,79.48 L123.19,79.32 L123.69,79.15 L124.20,78.99 L124.70,78.83 L125.21,78.67 L125.71,78.50 L126.22,78.34 L126.72,78.18 L127.23,78.02 L127.73,77.86 L128.24,77.69 L128.74,77.53 L129.24,77.37 L129.75,77.21 L130.25,77.05 L130.76,76.88 L131.26,76.72 L131.77,76.56 L132.27,76.40 L132.78,76.24 L133.28,76.08 L133.79,75.92 L134.29,75.77 L134.80,75.61 L135.30,75.45 L135.81,75.29 L136.31,75.14 L136.81,74.98 L137.32,74.83 L137.82,74.68 L138.33,74.52 L138.83,74.37 L139.34,74.22 L139.84,74.07 L140.35,73.92 L140.85,73.78 L141.36,73.63 L141.86,73.48 L142.37,73.34 L142.87,73.20 L143.38,73.05 L143.88,72.91 L144.39,72.77 L144.89,72.63 L145.39,72.49 L145.90,72.36 L146.40,72.22 L146.91,72.09 L147.41,71.95 L147.92,71.82 L148.42,71.69 L148.93,71.56 L149.43,71.43 L149.94,71.30 L150.44,71.18 L150.95,71.05 L151.45,70.93 L151.96,70.81 L152.46,70.68 L152.97,70.56 L153.47,70.45 L153.97,70.33 L154.48,70.21 L154.98,70.10 L155.49,69.99 L155.99,69.87 L156.50,69.76 L157.00,69.65 L157.51,69.55 L158.01,69.44 L158.52,69.33 L159.02,69.23 L159.53,69.13 L160.03,69.03 L160.54,68.93 L161.04,68.83 L161.54,68.73 L162.05,68.63 L162.55,68.54 L163.06,68.44 L163.56,68.35 L164.07,68.26 L164.57,68.17 L165.08,68.08 L165.58,67.98 L166.09,67.90 L166.59,67.81 L167.10,67.72 L167.60,67.63 L168.11,67.54 L168.61,67.46 L169.12,67.37 L169.62,67.29 L170.12,67.21 L170.63,67.12 L171.13,67.04 L171.64,66.96 L172.14,66.88 L172.65,66.80 L173.15,66.72 L173.66,66.64 L174.16,66.56 L174.67,66.48 L175.17,66.40 L175.68,66.33 L176.18,66.25 L176.69,66.18 L177.19,66.10 L177.69,66.03 L178.20,65.95 L178.70,65.88 L179.21,65.81 L179.71,65.73 L180.22,65.66 L180.72,65.59 L181.23,65.52 L181.73,65.45 L182.24,65.38 L182.74,65.31 L183.25,65.24 L183.75,65.17 L184.26,65.11 L184.76,65.04 L185.27,64.97 L185.77,64.91 L186.27,64.84 L186.78,64.78 L187.28,64.71 L187.79,64.65 L188.29,64.58 L188.80,64.52 L189.30,64.46 L189.81,64.39 L190.31,64.33 L190.82,64.27 L191.32,64.21 L191.83,64.15 L192.33,64.09 L192.84,64.03 L193.34,63.97 L193.84,63.91 L194.35,63.85 L194.85,63.79 L195.36,63.73 L195.86,63.67 L196.37,63.62 L196.87,63.56 L197.38,63.50 L197.88,63.45 L198.39,63.39 L198.89,63.33 L199.40,63.28 L199.90,63.23 L200.41,63.17 L200.91,63.12 L201.42,63.07 L201.92,63.01 L202.42,62.96 L202.93,62.91 L203.43,62.86 L203.94,62.81 L204.44,62.76 L204.95,62.71 L205.45,62.66 L205.96,62.61 L206.46,62.56 L206.97,62.52 L207.47,62.47 L207.98,62.42 L208.48,62.37 L208.99,62.33 L209.49,62.28 L209.99,62.23 L210.50,62.19 L211.00,62.14 L211.51,62.10 L212.01,62.05 L212.52,62.01 L213.02,61.96 L213.53,61.92 L214.03,61.87 L214.54,61.83 L215.04,61.78 L215.55,61.74 L216.05,61.70 L216.56,61.65 L217.06,61.60 L217.57,61.56 L218.07,61.51 L218.57,61.45 L219.08,61.40 L219.58,61.35 L220.09,61.30 L220.59,61.24 L221.10,61.19 L221.60,61.13 L222.11,61.08 L222.61,61.03 L223.12,60.97 L223.62,60.92 L224.13,60.87 L224.63,60.82 L225.14,60.76 L225.64,60.72 L226.15,60.67 L226.65,60.62 L227.15,60.58 L227.66,60.53 L228.16,60.49 L228.67,60.46 L229.17,60.42 L229.68,60.38 L230.18,60.35 L230.69,60.32 L231.19,60.30 L231.70,60.27 L232.20,60.25 L232.71,60.24 L233.21,60.22 L233.72,60.21 L234.22,60.20 L234.72,60.20 L235.23,60.20 L235.73,60.20 L236.24,60.20 L236.74,60.20 L237.25,60.20 L237.75,60.20 L238.26,60.21 L238.76,60.21 L239.27,60.21 L239.77,60.21 L240.28,60.22 L240.78,60.22 L241.29,60.22 L241.79,60.23 L242.30,60.23 L242.80,60.23 L243.30,60.24 L243.81,60.24 L244.31,60.24 L244.82,60.25 L245.32,60.25 L245.83,60.26 L246.33,60.26 L246.84,60.27 L247.34,60.27 L247.85,60.28 L248.35,60.28 L248.86,60.29 L249.36,60.29 L249.87,60.30 L250.37,60.30 L250.87,60.31 L251.38,60.32 L251.88,60.32 L252.39,60.33 L252.89,60.34 L253.40,60.35 L253.90,60.36 L254.41,60.37 L254.91,60.38 L255.42,60.39 L255.92,60.40 L256.43,60.41 L256.93,60.43 L257.44,60.44 L257.94,60.45 L258.45,60.47 L258.95,60.49 L259.45,60.50 L259.96,60.52 L260.46,60.54 L260.97,60.56 L261.47,60.58 L261.98,60.60 L262.48,60.62 L262.99,60.66 L263.49,60.70 L264.00,60.75 L264.50,60.80 L265.01,60.86 L265.51,60.92 L266.02,60.99 L266.52,61.06 L267.02,61.13 L267.53,61.21 L268.03,61.29 L268.54,61.37 L269.04,61.44 L269.55,61.52 L270.05,61.60 L270.56,61.68 L271.06,61.75 L271.57,61.82 L272.07,61.89 L272.58,61.96 L273.08,62.03 L273.59,62.10 L274.09,62.18 L274.60,62.25 L275.10,62.32 L275.60,62.39 L276.11,62.47 L276.61,62.54 L277.12,62.62 L277.62,62.71 L278.13,62.79 L278.63,62.88 L279.14,62.97 L279.64,63.07 L280.15,63.17 L280.65,63.27 L281.16,63.38 L281.66,63.50 L282.17,63.63 L282.67,63.76 L283.17,63.91 L283.68,64.06 L284.18,64.22 L284.69,64.38 L285.19,64.55 L285.70,64.72 L286.20,64.89 L286.71,65.06 L287.21,65.24 L287.72,65.42 L288.22,65.60 L288.73,65.78 L289.23,65.97 L289.74,66.16 L290.24,66.36 L290.75,66.57 L291.25,66.78 L291.75,67.00 L292.26,67.22 L292.76,67.45 L293.27,67.69 L293.77,67.93 L294.28,68.18 L294.78,68.43 L295.29,68.70 L295.79,68.97 L296.30,69.25 L296.80,69.54 L297.31,69.85 L297.81,70.16 L298.32,70.49 L298.82,70.84 L299.32,71.20 L299.83,71.57 L300.33,71.96 L300.84,72.37 L301.34,72.80 L301.85,73.25 L302.35,73.74 L302.86,74.26 L303.36,74.82 L303.87,75.43 L304.37,76.09 L304.88,76.81 L305.38,77.70 L305.89,78.72 L306.39,79.85 L306.90,81.05 L307.40,82.30" stroke="#1e821e" fill="none"/>
<path d="M85.10,90.60L91.90,97.40M85.10,97.40L91.90,90.60" stroke="#1e821e" stroke-width="0.9" fill="none"/>
<path d="M121.70,74.60L128.50,81.40M121.70,81.40L128.50,74.60" stroke="#1e821e" stroke-width="0.9" fill="none"/>
<path d="M158.30,64.60L165.10,71.40M158.30,71.40L165.10,64.60" stroke="#1e821e" stroke-width="0.9" fill="none"/>
<path d="M194.90,59.50L201.70,66.30M194.90,66.30L201.70,59.50" stroke="#1e821e" stroke-width="0.9" fill="none"/>
<path d="M231.50,58.30L238.30,65.10M231.50,65.10L238.30,58.30" stroke="#1e821e" stroke-width="0.9" fill="none"/>
<path d="M268.10,60.90L274.90,67.70M268.10,67.70L274.90,60.90" stroke="#1e821e" stroke-width="0.9" fill="none"/>
<path d="M51.94,366.60 L51.94,363.75 L51.94,360.90 L51.95,358.05 L51.95,355.20 L51.95,352.35 L51.96,349.49 L51.96,346.64 L51.97,343.79 L51.97,340.94 L51.98,338.09 L51.99,335.24 L51.99,332.39 L52.00,329.54 L52.01,326.69 L52.02,323.84 L52.03,320.99 L52.04,318.14 L52.05,315.28 L52.06,312.43 L52.07,309.58 L52.09,306.73 L52.10,303.88 L52.12,301.03 L52.14,298.18 L52.16,295.33 L52.18,292.48 L52.20,289.63 L52.23,286.78 L52.25,283.93 L52.28,281.07 L52.31,278.22 L52.34,275.37 L52.38,272.52 L52.42,269.67 L52.46,266.82 L52.51,263.97 L52.56,261.12 L52.61,258.27 L52.67,255.42 L52.73,252.57 L52.80,249.72 L52.87,246.86 L52.95,244.01 L53.04,241.16 L53.13,238.31 L53.23,235.46 L53.33,232.61 L53.45,229.76 L53.58,226.91 L53.71,224.06 L53.86,221.21 L54.02,218.36 L54.19,215.51 L54.38,212.65 L54.58,209.80 L54.80,206.95 L55.03,204.10 L55.29,201.25 L55.56,198.40 L56.23,192.32 L56.90,187.11 L57.57,182.54 L58.23,178.49 L58.90,174.83 L59.57,171.51 L60.24,168.47 L60.91,165.65 L61.58,163.04 L62.25,160.60 L62.91,158.31 L63.58,156.16 L64.25,154.12 L64.92,152.20 L65.59,150.37 L66.26,148.62 L66.93,146.95 L67.60,145.36 L68.26,143.83 L68.93,142.37 L69.60,140.96 L70.27,139.60 L70.94,138.29 L71.61,137.02 L72.28,135.80 L72.94,134.62 L73.61,133.47 L74.28,132.36 L74.95,131.28 L75.62,130.23 L76.29,129.21 L76.96,128.22 L77.62,127.25 L78.29,126.31 L78.96,125.39 L79.63,124.49 L80.30,123.62 L80.97,122.76 L81.64,121.93 L82.30,121.11 L82.97,120.31 L83.64,119.53 L84.31,118.77 L84.98,118.02 L85.65,117.28 L86.32,116.56 L86.99,115.85 L87.65,115.16 L88.32,114.48 L88.99,113.81 L89.66,113.15 L90.33,112.50 L91.00,111.87 L91.67,111.24 L92.33,110.63 L93.00,110.02 L93.67,109.42 L94.34,108.84 L95.01,108.26 L95.68,107.69 L96.35,107.13 L97.01,106.58 L97.68,106.04 L98.35,105.51 L99.02,104.98 L99.69,104.47 L100.36,103.96 L101.03,103.46 L101.69,102.96 L102.36,102.47 L103.03,101.99 L103.70,101.52 L104.37,101.05 L105.04,100.58 L105.71,100.12 L106.37,99.67 L107.04,99.23 L107.71,98.79 L108.38,98.35 L109.05,97.92 L109.72,97.50 L110.39,97.08 L111.06,96.66 L111.72,96.25 L112.39,95.85 L113.06,95.45 L113.73,95.06 L114.40,94.67 L115.07,94.28 L115.74,93.90 L116.40,93.52 L117.07,93.15 L117.74,92.78 L118.41,92.42 L119.08,92.06 L119.75,91.71 L120.42,91.35 L121.08,91.01 L121.75,90.66 L122.42,90.32 L123.09,89.99 L123.76,89.66 L124.43,89.33 L125.10,89.00 L125.76,88.68 L126.43,88.37 L127.10,88.06 L127.77,87.76 L128.44,87.46 L129.11,87.16 L129.78,86.87 L130.45,86.59 L131.11,86.30 L131.78,86.03 L132.45,85.75 L133.12,85.48 L133.79,85.21 L134.46,84.94 L135.13,84.67 L135.79,84.41 L136.46,84.14 L137.13,83.88 L137.80,83.62 L138.47,83.36 L139.14,83.10 L139.81,82.84 L140.47,82.59 L141.14,82.33 L141.81,82.07 L142.48,81.82 L143.15,81.56 L143.82,81.30 L144.49,81.05 L145.15,80.79 L145.82,80.53 L146.49,80.27 L147.16,80.01 L147.83,79.75 L148.50,79.49 L149.17,79.23 L149.84,78.96 L150.50,78.70 L151.17,78.43 L151.84,78.16 L152.51,77.88 L153.18,77.59 L153.85,77.30 L154.52,77.00 L155.18,76.70 L155.85,76.41 L156.52,76.11 L157.19,75.82 L157.86,75.53 L158.53,75.24 L159.20,74.97 L159.86,74.70 L160.53,74.43 L161.20,74.18 L161.87,73.94 L162.54,73.70 L163.21,73.47 L163.88,73.25 L164.54,73.02 L165.21,72.81 L165.88,72.59 L166.55,72.38 L167.22,72.17 L167.89,71.97 L168.56,71.77 L169.22,71.57 L169.89,71.37 L170.56,71.18 L171.23,70.98 L171.90,70.79 L172.57,70.61 L173.24,70.42 L173.91,70.23 L174.57,70.05 L175.24,69.87 L175.91,69.69 L176.58,69.51 L177.25,69.33 L177.92,69.15 L178.59,68.97 L179.25,68.80 L179.92,68.62 L180.59,68.45 L181.26,68.28 L181.93,68.13 L182.60,67.97 L183.27,67.82 L183.93,67.68 L184.60,67.53 L185.27,67.38 L185.94,67.23 L186.61,67.08 L187.28,66.92 L187.95,66.76 L188.61,66.59 L189.28,66.41 L189.95,66.22 L190.62,66.02 L191.29,65.80 L191.96,65.55 L192.63,65.26 L193.30,64.95 L193.96,64.62 L194.63,64.28 L195.30,63.94 L195.97,63.62 L196.64,63.32 L197.31,63.04 L197.98,62.80 L198.64,62.60 L199.31,62.41 L199.98,62.24 L200.65,62.07 L201.32,61.91 L201.99,61.76 L202.66,61.62 L203.32,61.48 L203.99,61.35 L204.66,61.22 L205.33,61.10 L206.00,60.98 L206.67,60.86 L207.34,60.75 L208.00,60.64 L208.67,60.52 L209.34,60.41 L210.01,60.30 L210.68,60.19 L211.35,60.07 L212.02,59.96 L212.69,59.84 L213.35,59.72 L214.02,59.59 L214.69,59.46 L215.36,59.33 L216.03,59.19 L216.70,59.05 L217.37,58.91 L218.03,58.77 L218.70,58.62 L219.37,58.47 L220.04,58.32 L220.71,58.17 L221.38,58.02 L222.05,57.87 L222.71,57.71 L223.38,57.56 L224.05,57.41 L224.72,57.25 L225.39,57.10 L226.06,56.94 L226.73,56.79 L227.39,56.64 L228.06,56.49 L228.73,56.33 L229.40,56.18 L230.07,56.03 L230.74,55.89 L231.41,55.74 L232.07,55.59 L232.74,55.45 L233.41,55.31 L234.08,55.17 L234.75,55.03 L235.42,54.89 L236.09,54.76 L236.76,54.63 L237.42,54.49 L238.09,54.36 L238.76,54.23 L239.43,54.10 L240.10,53.97 L240.77,53.84 L241.44,53.72 L242.10,53.59 L242.77,53.46 L243.44,53.34 L244.11,53.21 L244.78,53.09 L245.45,52.97 L246.12,52.84 L246.78,52.72 L247.45,52.60 L248.12,52.48 L248.79,52.36 L249.46,52.24 L250.13,52.11 L250.80,51.99 L251.46,51.87 L252.13,51.75 L252.80,51.63 L253.47,51.51 L254.14,51.39 L254.81,51.27 L255.48,51.15 L256.15,51.03 L256.81,50.91 L257.48,50.79 L258.15,50.67 L258.82,50.55 L259.49,50.43 L260.16,50.31 L260.83,50.19 L261.49,50.07 L262.16,49.94 L262.83,49.82 L263.50,49.70 L264.17,49.58 L264.84,49.46 L265.51,49.34 L266.17,49.22 L266.84,49.10 L267.51,48.98 L268.18,48.87 L268.85,48.75 L269.52,48.63 L270.19,48.52 L270.85,48.41 L271.52,48.30 L272.19,48.19 L272.86,48.08 L273.53,47.97 L274.20,47.87 L274.87,47.76 L275.54,47.66 L276.20,47.56 L276.87,47.46 L277.54,47.35 L278.21,47.25 L278.88,47.15 L279.55,47.05 L280.22,46.95 L280.88,46.85 L281.55,46.75 L282.22,46.64 L282.89,46.54 L283.56,46.43 L284.23,46.33 L284.90,46.22 L285.56,46.11 L286.23,46.00 L286.90,45.88 L287.57,45.77 L288.24,45.65 L288.91,45.53 L289.58,45.41 L290.24,45.29 L290.91,45.17 L291.58,45.05 L292.25,44.93 L292.92,44.81 L293.59,44.69 L294.26,44.56 L294.92,44.44 L295.59,44.32 L296.26,44.20 L296.93,44.08 L297.60,43.95 L298.27,43.83 L298.94,43.71 L299.61,43.60 L300.27,43.48 L300.94,43.36 L301.61,43.25 L302.28,43.13 L302.95,43.02 L303.62,42.91 L304.29,42.80 L304.95,42.70 L305.62,42.59 L306.29,42.49 L306.96,42.39 L307.63,42.29 L308.30,42.19 L308.97,42.10 L309.63,42.01 L310.30,41.92 L310.97,41.83 L311.64,41.74 L312.31,41.66 L312.98,41.57 L313.65,41.49 L314.31,41.41 L314.98,41.33 L315.65,41.25 L316.32,41.18 L316.99,41.10 L317.66,41.02 L318.33,40.95 L319.00,40.87 L319.66,40.80 L320.33,40.72 L321.00,40.65 L321.67,40.58 L322.34,40.50 L323.01,40.43 L323.68,40.36 L324.34,40.28 L325.01,40.21 L325.68,40.14 L326.35,40.06 L327.02,39.99 L327.69,39.91 L328.36,39.83 L329.02,39.76 L329.69,39.68 L330.36,39.60 L331.03,39.52 L331.70,39.44 L332.37,39.36 L333.04,39.28 L333.70,39.20 L334.37,39.11 L335.04,39.03 L335.71,38.94 L336.38,38.85 L337.05,38.75 L337.72,38.63 L338.39,38.52 L339.05,38.39 L339.72,38.27 L340.39,38.15 L341.06,38.04 L341.73,37.93 L342.40,37.83 L343.07,37.74 L343.73,37.67 L344.40,37.62 L345.07,37.58 L345.74,37.55 L346.41,37.52 L347.08,37.49 L347.75,37.47 L348.41,37.44 L349.08,37.41 L349.75,37.39 L350.42,37.36 L351.09,37.34 L351.76,37.32 L352.43,37.30 L353.09,37.28 L353.76,37.26 L354.43,37.24 L355.10,37.22 L355.77,37.21 L356.44,37.19 L357.11,37.18 L357.77,37.17 L358.44,37.15 L359.11,37.14 L359.78,37.13 L360.45,37.13 L361.12,37.12 L361.79,37.11 L362.46,37.11 L363.12,37.10 L363.79,37.10 L364.46,37.10 L365.13,37.10 L365.80,37.10 L366.47,37.11 L367.14,37.11 L367.80,37.12 L368.47,37.13 L369.14,37.15 L369.81,37.16 L370.48,37.18 L371.15,37.20 L371.82,37.21 L372.48,37.24 L373.15,37.26 L373.82,37.28 L374.49,37.31 L375.16,37.33 L375.83,37.36 L376.50,37.39 L377.16,37.42 L377.83,37.44 L378.50,37.47 L379.17,37.50 L379.84,37.53 L380.51,37.56 L381.18,37.59 L381.85,37.63 L382.51,37.66 L383.18,37.71 L383.85,37.75 L384.52,37.80 L385.19,37.85 L385.86,37.91 L386.53,37.96 L387.19,38.02 L387.86,38.08 L388.53,38.14 L389.20,38.20" stroke="#ff00ff" fill="none"/>
<rect x="85.40" y="110.60" width="6.20" height="6.20" stroke="#ff00ff" stroke-width="0.9" fill="none"/>
<rect x="122.00" y="85.10" width="6.20" height="6.20" stroke="#ff00ff" stroke-width="0.9" fill="none"/>
<rect x="158.60" y="70.10" width="6.20" height="6.20" stroke="#ff00ff" stroke-width="0.9" fill="none"/>
<rect x="195.20" y="58.70" width="6.20" height="6.20" stroke="#ff00ff" stroke-width="0.9" fill="none"/>
<rect x="231.80" y="50.50" width="6.20" height="6.20" stroke="#ff00ff" stroke-width="0.9" fill="none"/>
<rect x="268.40" y="43.90" width="6.20" height="6.20" stroke="#ff00ff" stroke-width="0.9" fill="none"/>
<rect x="305.00" y="38.90" width="6.20" height="6.20" stroke="#ff00ff" stroke-width="0.9" fill="none"/>
<rect x="341.60" y="35.40" width="6.20" height="6.20" stroke="#ff00ff" stroke-width="0.9" fill="none"/>
<rect x="378.20" y="38.15" width="6.20" height="6.20" stroke="#ff00ff" stroke-width="0.9" fill="none"/>
</g>
<rect x="170.5" y="85.3" width="197.8" height="81.39999999999999" fill="#fff" stroke="none"/>
<g clip-path="url(#ci)">
<path d="M170.50,146.40 L171.16,146.40 L171.82,146.40 L172.48,146.39 L173.15,146.39 L173.81,146.38 L174.47,146.38 L175.13,146.37 L175.79,146.37 L176.45,146.36 L177.12,146.35 L177.78,146.35 L178.44,146.34 L179.10,146.33 L179.76,146.32 L180.42,146.31 L181.08,146.30 L181.75,146.29 L182.41,146.28 L183.07,146.27 L183.73,146.26 L184.39,146.25 L185.05,146.23 L185.72,146.22 L186.38,146.21 L187.04,146.20 L187.70,146.19 L188.36,146.17 L189.02,146.16 L189.68,146.15 L190.35,146.13 L191.01,146.12 L191.67,146.11 L192.33,146.09 L192.99,146.08 L193.65,146.06 L194.32,146.05 L194.98,146.03 L195.64,146.01 L196.30,145.99 L196.96,145.97 L197.62,145.95 L198.28,145.92 L198.95,145.90 L199.61,145.87 L200.27,145.85 L200.93,145.82 L201.59,145.80 L202.25,145.77 L202.92,145.74 L203.58,145.72 L204.24,145.69 L204.90,145.66 L205.56,145.63 L206.22,145.61 L206.88,145.58 L207.55,145.55 L208.21,145.52 L208.87,145.49 L209.53,145.46 L210.19,145.44 L210.85,145.41 L211.52,145.38 L212.18,145.35 L212.84,145.33 L213.50,145.30 L214.16,145.27 L214.82,145.25 L215.48,145.22 L216.15,145.19 L216.81,145.17 L217.47,145.14 L218.13,145.11 L218.79,145.09 L219.45,145.06 L220.12,145.03 L220.78,145.00 L221.44,144.98 L222.10,144.95 L222.76,144.92 L223.42,144.89 L224.08,144.86 L224.75,144.84 L225.41,144.81 L226.07,144.78 L226.73,144.75 L227.39,144.72 L228.05,144.69 L228.72,144.67 L229.38,144.64 L230.04,144.61 L230.70,144.58 L231.36,144.55 L232.02,144.53 L232.68,144.50 L233.35,144.47 L234.01,144.44 L234.67,144.41 L235.33,144.39 L235.99,144.36 L236.65,144.33 L237.32,144.30 L237.98,144.27 L238.64,144.24 L239.30,144.21 L239.96,144.18 L240.62,144.15 L241.28,144.12 L241.95,144.09 L242.61,144.06 L243.27,144.03 L243.93,144.00 L244.59,143.97 L245.25,143.94 L245.92,143.91 L246.58,143.88 L247.24,143.85 L247.90,143.82 L248.56,143.79 L249.22,143.77 L249.88,143.74 L250.55,143.71 L251.21,143.69 L251.87,143.66 L252.53,143.63 L253.19,143.61 L253.85,143.59 L254.52,143.56 L255.18,143.54 L255.84,143.52 L256.50,143.50 L257.16,143.48 L257.82,143.46 L258.48,143.44 L259.15,143.42 L259.81,143.41 L260.47,143.39 L261.13,143.37 L261.79,143.36 L262.45,143.34 L263.12,143.33 L263.78,143.31 L264.44,143.29 L265.10,143.28 L265.76,143.26 L266.42,143.25 L267.08,143.24 L267.75,143.22 L268.41,143.21 L269.07,143.19 L269.73,143.18 L270.39,143.17 L271.05,143.15 L271.72,143.14 L272.38,143.12 L273.04,143.11 L273.70,143.10 L274.36,143.08 L275.02,143.07 L275.68,143.05 L276.35,143.04 L277.01,143.02 L277.67,143.01 L278.33,142.99 L278.99,142.98 L279.65,142.96 L280.32,142.94 L280.98,142.92 L281.64,142.90 L282.30,142.88 L282.96,142.86 L283.62,142.84 L284.28,142.82 L284.95,142.80 L285.61,142.78 L286.27,142.76 L286.93,142.74 L287.59,142.72 L288.25,142.70 L288.92,142.68 L289.58,142.66 L290.24,142.65 L290.90,142.63 L291.56,142.61 L292.22,142.60 L292.88,142.58 L293.55,142.57 L294.21,142.55 L294.87,142.54 L295.53,142.53 L296.19,142.52 L296.85,142.51 L297.52,142.51 L298.18,142.50 L298.84,142.50 L299.50,142.50 L300.16,142.50 L300.82,142.50 L301.48,142.50 L302.15,142.50 L302.81,142.50 L303.47,142.51 L304.13,142.51 L304.79,142.51 L305.45,142.52 L306.12,142.52 L306.78,142.52 L307.44,142.53 L308.10,142.53 L308.76,142.54 L309.42,142.54 L310.08,142.55 L310.75,142.55 L311.41,142.56 L312.07,142.57 L312.73,142.58 L313.39,142.58 L314.05,142.59 L314.72,142.60 L315.38,142.61 L316.04,142.62 L316.70,142.63 L317.36,142.64 L318.02,142.65 L318.68,142.66 L319.35,142.67 L320.01,142.68 L320.67,142.69 L321.33,142.71 L321.99,142.73 L322.65,142.76 L323.32,142.79 L323.98,142.83 L324.64,142.88 L325.30,142.92 L325.96,142.97 L326.62,143.03 L327.28,143.10 L327.95,143.17 L328.61,143.25 L329.27,143.33 L329.93,143.42 L330.59,143.51 L331.25,143.61 L331.92,143.72 L332.58,143.83 L333.24,143.94 L333.90,144.06 L334.56,144.19 L335.22,144.32 L335.88,144.45 L336.55,144.59 L337.21,144.73 L337.87,144.88 L338.53,145.03 L339.19,145.18 L339.85,145.34 L340.52,145.50 L341.18,145.66 L341.84,145.83 L342.50,146.00 L343.16,146.18 L343.82,146.37 L344.48,146.58 L345.15,146.81 L345.81,147.05 L346.47,147.30 L347.13,147.56 L347.79,147.84 L348.45,148.13 L349.12,148.43 L349.78,148.74 L350.44,149.06 L351.10,149.40 L351.76,149.74 L352.42,150.09 L353.08,150.45 L353.75,150.82 L354.41,151.19 L355.07,151.57 L355.73,151.96 L356.39,152.36 L357.05,152.77 L357.72,153.21 L358.38,153.67 L359.04,154.17 L359.70,154.69 L360.36,155.23 L361.02,155.81 L361.68,156.41 L362.35,157.05 L363.01,157.72 L363.67,158.44 L364.33,159.23 L364.99,160.07 L365.65,160.97 L366.32,161.94 L366.98,162.96 L367.64,164.15 L368.30,165.50" stroke="#808080" fill="none"/>
<path d="M192.00,143.00L195.60,149.10L188.40,149.10Z" fill="#808080" stroke="none"/>
<path d="M213.50,142.20L217.10,148.30L209.90,148.30Z" fill="#808080" stroke="none"/>
<path d="M235.00,141.30L238.60,147.40L231.40,147.40Z" fill="#808080" stroke="none"/>
<path d="M256.50,140.40L260.10,146.50L252.90,146.50Z" fill="#808080" stroke="none"/>
<path d="M278.00,140.00L281.60,146.10L274.40,146.10Z" fill="#808080" stroke="none"/>
<path d="M299.50,139.50L303.10,145.60L295.90,145.60Z" fill="#808080" stroke="none"/>
<path d="M321.00,140.50L324.60,146.60L317.40,146.60Z" fill="#808080" stroke="none"/>
<path d="M342.50,144.20L346.10,150.30L338.90,150.30Z" fill="#808080" stroke="none"/>
<path d="M364.70,161.10L368.30,167.20L361.10,167.20Z" fill="#808080" stroke="none"/>
<path d="M170.50,146.45 L171.16,146.45 L171.82,146.45 L172.48,146.45 L173.15,146.45 L173.81,146.45 L174.47,146.45 L175.13,146.45 L175.79,146.45 L176.45,146.45 L177.12,146.44 L177.78,146.44 L178.44,146.44 L179.10,146.44 L179.76,146.44 L180.42,146.44 L181.08,146.44 L181.75,146.43 L182.41,146.43 L183.07,146.43 L183.73,146.43 L184.39,146.43 L185.05,146.42 L185.72,146.42 L186.38,146.42 L187.04,146.42 L187.70,146.42 L188.36,146.41 L189.02,146.41 L189.68,146.41 L190.35,146.41 L191.01,146.40 L191.67,146.40 L192.33,146.40 L192.99,146.40 L193.65,146.39 L194.32,146.39 L194.98,146.38 L195.64,146.38 L196.30,146.37 L196.96,146.36 L197.62,146.36 L198.28,146.35 L198.95,146.34 L199.61,146.33 L200.27,146.32 L200.93,146.32 L201.59,146.31 L202.25,146.30 L202.92,146.29 L203.58,146.28 L204.24,146.27 L204.90,146.25 L205.56,146.24 L206.22,146.23 L206.88,146.22 L207.55,146.21 L208.21,146.20 L208.87,146.19 L209.53,146.17 L210.19,146.16 L210.85,146.15 L211.52,146.14 L212.18,146.12 L212.84,146.11 L213.50,146.10 L214.16,146.09 L214.82,146.07 L215.48,146.06 L216.15,146.05 L216.81,146.03 L217.47,146.02 L218.13,146.00 L218.79,145.99 L219.45,145.97 L220.12,145.95 L220.78,145.94 L221.44,145.92 L222.10,145.90 L222.76,145.88 L223.42,145.86 L224.08,145.84 L224.75,145.83 L225.41,145.81 L226.07,145.79 L226.73,145.77 L227.39,145.75 L228.05,145.73 L228.72,145.71 L229.38,145.68 L230.04,145.66 L230.70,145.64 L231.36,145.62 L232.02,145.60 L232.68,145.58 L233.35,145.56 L234.01,145.53 L234.67,145.51 L235.33,145.49 L235.99,145.47 L236.65,145.44 L237.32,145.42 L237.98,145.40 L238.64,145.37 L239.30,145.35 L239.96,145.33 L240.62,145.30 L241.28,145.28 L241.95,145.25 L242.61,145.23 L243.27,145.20 L243.93,145.18 L244.59,145.15 L245.25,145.12 L245.92,145.10 L246.58,145.07 L247.24,145.04 L247.90,145.01 L248.56,144.98 L249.22,144.96 L249.88,144.93 L250.55,144.90 L251.21,144.87 L251.87,144.83 L252.53,144.80 L253.19,144.77 L253.85,144.74 L254.52,144.70 L255.18,144.67 L255.84,144.64 L256.50,144.60 L257.16,144.56 L257.82,144.53 L258.48,144.49 L259.15,144.45 L259.81,144.41 L260.47,144.37 L261.13,144.33 L261.79,144.29 L262.45,144.25 L263.12,144.20 L263.78,144.16 L264.44,144.11 L265.10,144.07 L265.76,144.02 L266.42,143.97 L267.08,143.92 L267.75,143.87 L268.41,143.82 L269.07,143.77 L269.73,143.72 L270.39,143.67 L271.05,143.61 L271.72,143.56 L272.38,143.50 L273.04,143.45 L273.70,143.39 L274.36,143.33 L275.02,143.27 L275.68,143.21 L276.35,143.15 L277.01,143.09 L277.67,143.03 L278.33,142.97 L278.99,142.90 L279.65,142.84 L280.32,142.77 L280.98,142.70 L281.64,142.63 L282.30,142.56 L282.96,142.48 L283.62,142.41 L284.28,142.33 L284.95,142.25 L285.61,142.17 L286.27,142.09 L286.93,142.01 L287.59,141.92 L288.25,141.84 L288.92,141.75 L289.58,141.66 L290.24,141.57 L290.90,141.48 L291.56,141.39 L292.22,141.30 L292.88,141.20 L293.55,141.11 L294.21,141.01 L294.87,140.91 L295.53,140.81 L296.19,140.71 L296.85,140.61 L297.52,140.51 L298.18,140.41 L298.84,140.30 L299.50,140.20 L300.16,140.09 L300.82,139.98 L301.48,139.87 L302.15,139.76 L302.81,139.64 L303.47,139.52 L304.13,139.40 L304.79,139.28 L305.45,139.15 L306.12,139.03 L306.78,138.90 L307.44,138.77 L308.10,138.63 L308.76,138.50 L309.42,138.36 L310.08,138.23 L310.75,138.09 L311.41,137.95 L312.07,137.80 L312.73,137.66 L313.39,137.52 L314.05,137.37 L314.72,137.23 L315.38,137.08 L316.04,136.93 L316.70,136.78 L317.36,136.63 L318.02,136.48 L318.68,136.33 L319.35,136.18 L320.01,136.03 L320.67,135.88 L321.33,135.72 L321.99,135.57 L322.65,135.41 L323.32,135.25 L323.98,135.08 L324.64,134.90 L325.30,134.71 L325.96,134.52 L326.62,134.32 L327.28,134.11 L327.95,133.90 L328.61,133.68 L329.27,133.46 L329.93,133.24 L330.59,133.01 L331.25,132.77 L331.92,132.53 L332.58,132.29 L333.24,132.04 L333.90,131.79 L334.56,131.53 L335.22,131.27 L335.88,131.01 L336.55,130.75 L337.21,130.48 L337.87,130.20 L338.53,129.92 L339.19,129.64 L339.85,129.36 L340.52,129.08 L341.18,128.79 L341.84,128.49 L342.50,128.20 L343.16,127.90 L343.82,127.60 L344.48,127.28 L345.15,126.97 L345.81,126.64 L346.47,126.31 L347.13,125.98 L347.79,125.64 L348.45,125.29 L349.12,124.94 L349.78,124.58 L350.44,124.22 L351.10,123.86 L351.76,123.48 L352.42,123.11 L353.08,122.72 L353.75,122.34 L354.41,121.95 L355.07,121.55 L355.73,121.15 L356.39,120.75 L357.05,120.34 L357.72,119.93 L358.38,119.49 L359.04,119.03 L359.70,118.56 L360.36,118.08 L361.02,117.60 L361.68,117.12 L362.35,116.67 L363.01,116.23 L363.67,115.81 L364.33,115.39 L364.99,114.97 L365.65,114.56 L366.32,114.16 L366.98,113.77 L367.64,113.38 L368.30,113.00" stroke="#ff4500" fill="none"/>
<path d="M192.00,143.30L195.10,148.70L188.90,148.70Z" fill="none" stroke="#ff4500" stroke-width="0.9"/>
<path d="M213.50,143.00L216.60,148.40L210.40,148.40Z" fill="none" stroke="#ff4500" stroke-width="0.9"/>
<path d="M235.00,142.40L238.10,147.80L231.90,147.80Z" fill="none" stroke="#ff4500" stroke-width="0.9"/>
<path d="M256.50,141.50L259.60,146.90L253.40,146.90Z" fill="none" stroke="#ff4500" stroke-width="0.9"/>
<path d="M278.00,139.90L281.10,145.30L274.90,145.30Z" fill="none" stroke="#ff4500" stroke-width="0.9"/>
<path d="M299.50,137.10L302.60,142.50L296.40,142.50Z" fill="none" stroke="#ff4500" stroke-width="0.9"/>
<path d="M321.00,131.40L324.10,136.80L317.90,136.80Z" fill="none" stroke="#ff4500" stroke-width="0.9"/>
<path d="M342.50,123.55L345.60,128.95L339.40,128.95Z" fill="none" stroke="#ff4500" stroke-width="0.9"/>
<path d="M364.70,110.30L367.80,115.70L361.60,115.70Z" fill="none" stroke="#ff4500" stroke-width="0.9"/>
<path d="M170.50,146.45 L171.16,146.45 L171.82,146.45 L172.48,146.44 L173.15,146.44 L173.81,146.44 L174.47,146.43 L175.13,146.42 L175.79,146.41 L176.45,146.40 L177.12,146.39 L177.78,146.38 L178.44,146.37 L179.10,146.36 L179.76,146.35 L180.42,146.33 L181.08,146.32 L181.75,146.30 L182.41,146.28 L183.07,146.27 L183.73,146.25 L184.39,146.23 L185.05,146.21 L185.72,146.20 L186.38,146.18 L187.04,146.16 L187.70,146.14 L188.36,146.12 L189.02,146.10 L189.68,146.07 L190.35,146.05 L191.01,146.03 L191.67,146.01 L192.33,145.99 L192.99,145.96 L193.65,145.94 L194.32,145.91 L194.98,145.88 L195.64,145.84 L196.30,145.81 L196.96,145.77 L197.62,145.73 L198.28,145.68 L198.95,145.64 L199.61,145.59 L200.27,145.54 L200.93,145.50 L201.59,145.44 L202.25,145.39 L202.92,145.34 L203.58,145.28 L204.24,145.23 L204.90,145.17 L205.56,145.11 L206.22,145.06 L206.88,145.00 L207.55,144.94 L208.21,144.88 L208.87,144.82 L209.53,144.76 L210.19,144.70 L210.85,144.64 L211.52,144.58 L212.18,144.52 L212.84,144.46 L213.50,144.40 L214.16,144.34 L214.82,144.28 L215.48,144.22 L216.15,144.15 L216.81,144.09 L217.47,144.02 L218.13,143.96 L218.79,143.89 L219.45,143.82 L220.12,143.75 L220.78,143.68 L221.44,143.61 L222.10,143.53 L222.76,143.46 L223.42,143.39 L224.08,143.31 L224.75,143.24 L225.41,143.16 L226.07,143.08 L226.73,143.01 L227.39,142.93 L228.05,142.85 L228.72,142.77 L229.38,142.69 L230.04,142.61 L230.70,142.53 L231.36,142.45 L232.02,142.37 L232.68,142.29 L233.35,142.20 L234.01,142.12 L234.67,142.04 L235.33,141.96 L235.99,141.88 L236.65,141.79 L237.32,141.71 L237.98,141.63 L238.64,141.54 L239.30,141.46 L239.96,141.37 L240.62,141.28 L241.28,141.20 L241.95,141.11 L242.61,141.02 L243.27,140.93 L243.93,140.84 L244.59,140.75 L245.25,140.66 L245.92,140.57 L246.58,140.48 L247.24,140.39 L247.90,140.29 L248.56,140.20 L249.22,140.10 L249.88,140.01 L250.55,139.91 L251.21,139.81 L251.87,139.72 L252.53,139.62 L253.19,139.52 L253.85,139.41 L254.52,139.31 L255.18,139.21 L255.84,139.11 L256.50,139.00 L257.16,138.89 L257.82,138.79 L258.48,138.68 L259.15,138.57 L259.81,138.46 L260.47,138.35 L261.13,138.24 L261.79,138.13 L262.45,138.01 L263.12,137.90 L263.78,137.78 L264.44,137.67 L265.10,137.55 L265.76,137.43 L266.42,137.31 L267.08,137.19 L267.75,137.07 L268.41,136.94 L269.07,136.82 L269.73,136.69 L270.39,136.57 L271.05,136.44 L271.72,136.31 L272.38,136.18 L273.04,136.04 L273.70,135.91 L274.36,135.77 L275.02,135.64 L275.68,135.50 L276.35,135.36 L277.01,135.22 L277.67,135.07 L278.33,134.93 L278.99,134.78 L279.65,134.63 L280.32,134.48 L280.98,134.33 L281.64,134.17 L282.30,134.01 L282.96,133.85 L283.62,133.69 L284.28,133.53 L284.95,133.36 L285.61,133.19 L286.27,133.02 L286.93,132.85 L287.59,132.68 L288.25,132.50 L288.92,132.33 L289.58,132.15 L290.24,131.97 L290.90,131.79 L291.56,131.60 L292.22,131.42 L292.88,131.23 L293.55,131.05 L294.21,130.86 L294.87,130.67 L295.53,130.48 L296.19,130.28 L296.85,130.09 L297.52,129.89 L298.18,129.70 L298.84,129.50 L299.50,129.30 L300.16,129.10 L300.82,128.90 L301.48,128.69 L302.15,128.49 L302.81,128.28 L303.47,128.07 L304.13,127.86 L304.79,127.65 L305.45,127.43 L306.12,127.21 L306.78,126.99 L307.44,126.77 L308.10,126.55 L308.76,126.33 L309.42,126.10 L310.08,125.87 L310.75,125.64 L311.41,125.41 L312.07,125.17 L312.73,124.93 L313.39,124.69 L314.05,124.45 L314.72,124.21 L315.38,123.97 L316.04,123.72 L316.70,123.47 L317.36,123.22 L318.02,122.97 L318.68,122.71 L319.35,122.45 L320.01,122.19 L320.67,121.93 L321.33,121.67 L321.99,121.40 L322.65,121.13 L323.32,120.86 L323.98,120.58 L324.64,120.30 L325.30,120.02 L325.96,119.74 L326.62,119.45 L327.28,119.16 L327.95,118.87 L328.61,118.57 L329.27,118.27 L329.93,117.97 L330.59,117.67 L331.25,117.36 L331.92,117.05 L332.58,116.74 L333.24,116.43 L333.90,116.11 L334.56,115.79 L335.22,115.47 L335.88,115.15 L336.55,114.82 L337.21,114.50 L337.87,114.17 L338.53,113.83 L339.19,113.50 L339.85,113.16 L340.52,112.83 L341.18,112.49 L341.84,112.14 L342.50,111.80 L343.16,111.45 L343.82,111.10 L344.48,110.74 L345.15,110.38 L345.81,110.01 L346.47,109.64 L347.13,109.27 L347.79,108.89 L348.45,108.50 L349.12,108.12 L349.78,107.73 L350.44,107.34 L351.10,106.94 L351.76,106.55 L352.42,106.15 L353.08,105.74 L353.75,105.34 L354.41,104.94 L355.07,104.53 L355.73,104.12 L356.39,103.71 L357.05,103.31 L357.72,102.90 L358.38,102.49 L359.04,102.08 L359.70,101.67 L360.36,101.26 L361.02,100.85 L361.68,100.44 L362.35,100.03 L363.01,99.63 L363.67,99.23 L364.33,98.82 L364.99,98.42 L365.65,98.02 L366.32,97.62 L366.98,97.21 L367.64,96.81 L368.30,96.40" stroke="#ff0000" fill="none"/>
<path d="M169.30,146.40H176.10M172.70,143.00V149.80" stroke="#ff0000" stroke-width="0.75" fill="none"/>
<path d="M188.60,146.00H195.40M192.00,142.60V149.40" stroke="#ff0000" stroke-width="0.75" fill="none"/>
<path d="M210.10,144.20H216.90M213.50,140.80V147.60" stroke="#ff0000" stroke-width="0.75" fill="none"/>
<path d="M231.60,141.70H238.40M235.00,138.30V145.10" stroke="#ff0000" stroke-width="0.75" fill="none"/>
<path d="M253.10,139.20H259.90M256.50,135.80V142.60" stroke="#ff0000" stroke-width="0.75" fill="none"/>
<path d="M274.60,134.80H281.40M278.00,131.40V138.20" stroke="#ff0000" stroke-width="0.75" fill="none"/>
<path d="M296.10,129.15H302.90M299.50,125.75V132.55" stroke="#ff0000" stroke-width="0.75" fill="none"/>
<path d="M317.60,121.60H324.40M321.00,118.20V125.00" stroke="#ff0000" stroke-width="0.75" fill="none"/>
<path d="M339.10,111.60H345.90M342.50,108.20V115.00" stroke="#ff0000" stroke-width="0.75" fill="none"/>
<path d="M361.30,96.90H368.10M364.70,93.50V100.30" stroke="#ff0000" stroke-width="0.75" fill="none"/>
<path d="M170.50,146.45 L171.16,146.45 L171.82,146.45 L172.48,146.45 L173.15,146.45 L173.81,146.45 L174.47,146.45 L175.13,146.45 L175.79,146.45 L176.45,146.45 L177.12,146.44 L177.78,146.44 L178.44,146.44 L179.10,146.44 L179.76,146.44 L180.42,146.44 L181.08,146.44 L181.75,146.43 L182.41,146.43 L183.07,146.43 L183.73,146.43 L184.39,146.43 L185.05,146.42 L185.72,146.42 L186.38,146.42 L187.04,146.42 L187.70,146.42 L188.36,146.41 L189.02,146.41 L189.68,146.41 L190.35,146.41 L191.01,146.40 L191.67,146.40 L192.33,146.40 L192.99,146.40 L193.65,146.39 L194.32,146.39 L194.98,146.38 L195.64,146.38 L196.30,146.37 L196.96,146.36 L197.62,146.36 L198.28,146.35 L198.95,146.34 L199.61,146.33 L200.27,146.32 L200.93,146.32 L201.59,146.31 L202.25,146.30 L202.92,146.29 L203.58,146.28 L204.24,146.27 L204.90,146.25 L205.56,146.24 L206.22,146.23 L206.88,146.22 L207.55,146.21 L208.21,146.20 L208.87,146.19 L209.53,146.17 L210.19,146.16 L210.85,146.15 L211.52,146.14 L212.18,146.12 L212.84,146.11 L213.50,146.10 L214.16,146.09 L214.82,146.07 L215.48,146.06 L216.15,146.05 L216.81,146.03 L217.47,146.02 L218.13,146.00 L218.79,145.99 L219.45,145.97 L220.12,145.95 L220.78,145.94 L221.44,145.92 L222.10,145.90 L222.76,145.88 L223.42,145.86 L224.08,145.84 L224.75,145.83 L225.41,145.81 L226.07,145.79 L226.73,145.77 L227.39,145.75 L228.05,145.73 L228.72,145.71 L229.38,145.68 L230.04,145.66 L230.70,145.64 L231.36,145.62 L232.02,145.60 L232.68,145.58 L233.35,145.56 L234.01,145.53 L234.67,145.51 L235.33,145.49 L235.99,145.47 L236.65,145.44 L237.32,145.42 L237.98,145.40 L238.64,145.37 L239.30,145.35 L239.96,145.33 L240.62,145.30 L241.28,145.28 L241.95,145.25 L242.61,145.23 L243.27,145.20 L243.93,145.18 L244.59,145.15 L245.25,145.12 L245.92,145.10 L246.58,145.07 L247.24,145.04 L247.90,145.01 L248.56,144.98 L249.22,144.96 L249.88,144.93 L250.55,144.90 L251.21,144.87 L251.87,144.83 L252.53,144.80 L253.19,144.77 L253.85,144.74 L254.52,144.70 L255.18,144.67 L255.84,144.64 L256.50,144.60 L257.16,144.56 L257.82,144.53 L258.48,144.49 L259.15,144.45 L259.81,144.41 L260.47,144.37 L261.13,144.33 L261.79,144.29 L262.45,144.24 L263.12,144.20 L263.78,144.15 L264.44,144.11 L265.10,144.06 L265.76,144.01 L266.42,143.97 L267.08,143.92 L267.75,143.87 L268.41,143.82 L269.07,143.76 L269.73,143.71 L270.39,143.66 L271.05,143.60 L271.72,143.55 L272.38,143.50 L273.04,143.44 L273.70,143.38 L274.36,143.33 L275.02,143.27 L275.68,143.21 L276.35,143.15 L277.01,143.09 L277.67,143.03 L278.33,142.97 L278.99,142.91 L279.65,142.84 L280.32,142.78 L280.98,142.71 L281.64,142.64 L282.30,142.57 L282.96,142.49 L283.62,142.42 L284.28,142.34 L284.95,142.27 L285.61,142.19 L286.27,142.11 L286.93,142.03 L287.59,141.95 L288.25,141.87 L288.92,141.79 L289.58,141.70 L290.24,141.62 L290.90,141.53 L291.56,141.45 L292.22,141.36 L292.88,141.27 L293.55,141.19 L294.21,141.10 L294.87,141.01 L295.53,140.93 L296.19,140.84 L296.85,140.75 L297.52,140.66 L298.18,140.57 L298.84,140.49 L299.50,140.40 L300.16,140.31 L300.82,140.22 L301.48,140.14 L302.15,140.05 L302.81,139.95 L303.47,139.86 L304.13,139.77 L304.79,139.68 L305.45,139.59 L306.12,139.49 L306.78,139.40 L307.44,139.30 L308.10,139.21 L308.76,139.11 L309.42,139.01 L310.08,138.92 L310.75,138.82 L311.41,138.72 L312.07,138.63 L312.73,138.53 L313.39,138.43 L314.05,138.33 L314.72,138.23 L315.38,138.14 L316.04,138.04 L316.70,137.94 L317.36,137.84 L318.02,137.74 L318.68,137.64 L319.35,137.54 L320.01,137.45 L320.67,137.35 L321.33,137.25 L321.99,137.16 L322.65,137.06 L323.32,136.97 L323.98,136.87 L324.64,136.76 L325.30,136.65 L325.96,136.52 L326.62,136.39 L327.28,136.25 L327.95,136.11 L328.61,135.96 L329.27,135.80 L329.93,135.64 L330.59,135.48 L331.25,135.31 L331.92,135.14 L332.58,134.97 L333.24,134.79 L333.90,134.61 L334.56,134.43 L335.22,134.25 L335.88,134.07 L336.55,133.89 L337.21,133.70 L337.87,133.52 L338.53,133.34 L339.19,133.16 L339.85,132.98 L340.52,132.81 L341.18,132.64 L341.84,132.47 L342.50,132.30 L343.16,132.14 L343.82,131.97 L344.48,131.81 L345.15,131.64 L345.81,131.48 L346.47,131.32 L347.13,131.15 L347.79,130.99 L348.45,130.83 L349.12,130.67 L349.78,130.50 L350.44,130.34 L351.10,130.18 L351.76,130.01 L352.42,129.85 L353.08,129.69 L353.75,129.53 L354.41,129.37 L355.07,129.20 L355.73,129.04 L356.39,128.88 L357.05,128.72 L357.72,128.56 L358.38,128.40 L359.04,128.24 L359.70,128.08 L360.36,127.92 L361.02,127.76 L361.68,127.59 L362.35,127.43 L363.01,127.27 L363.67,127.11 L364.33,126.96 L364.99,126.80 L365.65,126.64 L366.32,126.48 L366.98,126.32 L367.64,126.16 L368.30,126.00" stroke="#0000ff" fill="none"/>
<path d="M169.20,146.45H176.20M172.70,142.95V149.95" stroke="#0000ff" stroke-width="0.9" fill="none"/><path d="M169.38,143.12L176.02,149.77M169.38,149.77L176.02,143.12" stroke="#0000ff" stroke-width="0.9" fill="none"/>
<path d="M188.50,146.40H195.50M192.00,142.90V149.90" stroke="#0000ff" stroke-width="0.9" fill="none"/><path d="M188.68,143.08L195.32,149.72M188.68,149.72L195.32,143.08" stroke="#0000ff" stroke-width="0.9" fill="none"/>
<path d="M210.00,146.10H217.00M213.50,142.60V149.60" stroke="#0000ff" stroke-width="0.9" fill="none"/><path d="M210.18,142.78L216.82,149.42M210.18,149.42L216.82,142.78" stroke="#0000ff" stroke-width="0.9" fill="none"/>
<path d="M231.50,145.50H238.50M235.00,142.00V149.00" stroke="#0000ff" stroke-width="0.9" fill="none"/><path d="M231.68,142.18L238.32,148.82M231.68,148.82L238.32,142.18" stroke="#0000ff" stroke-width="0.9" fill="none"/>
<path d="M253.00,144.60H260.00M256.50,141.10V148.10" stroke="#0000ff" stroke-width="0.9" fill="none"/><path d="M253.18,141.28L259.82,147.92M253.18,147.92L259.82,141.28" stroke="#0000ff" stroke-width="0.9" fill="none"/>
<path d="M274.50,143.00H281.50M278.00,139.50V146.50" stroke="#0000ff" stroke-width="0.9" fill="none"/><path d="M274.68,139.68L281.32,146.32M274.68,146.32L281.32,139.68" stroke="#0000ff" stroke-width="0.9" fill="none"/>
<path d="M296.00,140.40H303.00M299.50,136.90V143.90" stroke="#0000ff" stroke-width="0.9" fill="none"/><path d="M296.18,137.08L302.82,143.72M296.18,143.72L302.82,137.08" stroke="#0000ff" stroke-width="0.9" fill="none"/>
<path d="M317.50,136.00H324.50M321.00,132.50V139.50" stroke="#0000ff" stroke-width="0.9" fill="none"/><path d="M317.68,132.68L324.32,139.32M317.68,139.32L324.32,132.68" stroke="#0000ff" stroke-width="0.9" fill="none"/>
<path d="M339.00,131.70H346.00M342.50,128.20V135.20" stroke="#0000ff" stroke-width="0.9" fill="none"/><path d="M339.18,128.38L345.82,135.02M339.18,135.02L345.82,128.38" stroke="#0000ff" stroke-width="0.9" fill="none"/>
<path d="M361.20,126.00H368.20M364.70,122.50V129.50" stroke="#0000ff" stroke-width="0.9" fill="none"/><path d="M361.38,122.67L368.02,129.32M361.38,129.32L368.02,122.67" stroke="#0000ff" stroke-width="0.9" fill="none"/>
<path d="M170.50,146.40 L171.16,146.40 L171.82,146.39 L172.48,146.39 L173.15,146.38 L173.81,146.38 L174.47,146.37 L175.13,146.37 L175.79,146.36 L176.45,146.36 L177.12,146.35 L177.78,146.34 L178.44,146.34 L179.10,146.33 L179.76,146.32 L180.42,146.32 L181.08,146.31 L181.75,146.30 L182.41,146.29 L183.07,146.28 L183.73,146.27 L184.39,146.26 L185.05,146.26 L185.72,146.25 L186.38,146.24 L187.04,146.23 L187.70,146.22 L188.36,146.21 L189.02,146.20 L189.68,146.19 L190.35,146.18 L191.01,146.17 L191.67,146.16 L192.33,146.14 L192.99,146.13 L193.65,146.12 L194.32,146.11 L194.98,146.10 L195.64,146.08 L196.30,146.07 L196.96,146.05 L197.62,146.04 L198.28,146.02 L198.95,146.00 L199.61,145.99 L200.27,145.97 L200.93,145.95 L201.59,145.94 L202.25,145.92 L202.92,145.90 L203.58,145.88 L204.24,145.86 L204.90,145.84 L205.56,145.82 L206.22,145.81 L206.88,145.79 L207.55,145.77 L208.21,145.75 L208.87,145.73 L209.53,145.71 L210.19,145.69 L210.85,145.67 L211.52,145.65 L212.18,145.64 L212.84,145.62 L213.50,145.60 L214.16,145.58 L214.82,145.56 L215.48,145.55 L216.15,145.53 L216.81,145.51 L217.47,145.49 L218.13,145.47 L218.79,145.45 L219.45,145.43 L220.12,145.41 L220.78,145.39 L221.44,145.37 L222.10,145.35 L222.76,145.33 L223.42,145.31 L224.08,145.29 L224.75,145.27 L225.41,145.25 L226.07,145.23 L226.73,145.22 L227.39,145.20 L228.05,145.18 L228.72,145.16 L229.38,145.14 L230.04,145.12 L230.70,145.11 L231.36,145.09 L232.02,145.07 L232.68,145.05 L233.35,145.04 L234.01,145.02 L234.67,145.01 L235.33,144.99 L235.99,144.98 L236.65,144.96 L237.32,144.95 L237.98,144.93 L238.64,144.91 L239.30,144.90 L239.96,144.88 L240.62,144.86 L241.28,144.85 L241.95,144.83 L242.61,144.81 L243.27,144.80 L243.93,144.78 L244.59,144.77 L245.25,144.75 L245.92,144.74 L246.58,144.72 L247.24,144.71 L247.90,144.69 L248.56,144.68 L249.22,144.67 L249.88,144.66 L250.55,144.65 L251.21,144.64 L251.87,144.63 L252.53,144.62 L253.19,144.62 L253.85,144.61 L254.52,144.61 L255.18,144.60 L255.84,144.60 L256.50,144.60 L257.16,144.60 L257.82,144.60 L258.48,144.60 L259.15,144.60 L259.81,144.60 L260.47,144.60 L261.13,144.61 L261.79,144.61 L262.45,144.61 L263.12,144.61 L263.78,144.61 L264.44,144.62 L265.10,144.62 L265.76,144.62 L266.42,144.63 L267.08,144.63 L267.75,144.63 L268.41,144.64 L269.07,144.64 L269.73,144.64 L270.39,144.65 L271.05,144.65 L271.72,144.66 L272.38,144.66 L273.04,144.66 L273.70,144.67 L274.36,144.67 L275.02,144.68 L275.68,144.68 L276.35,144.69 L277.01,144.69 L277.67,144.70 L278.33,144.70 L278.99,144.71 L279.65,144.71 L280.32,144.72 L280.98,144.73 L281.64,144.73 L282.30,144.74 L282.96,144.75 L283.62,144.76 L284.28,144.77 L284.95,144.78 L285.61,144.79 L286.27,144.80 L286.93,144.81 L287.59,144.82 L288.25,144.84 L288.92,144.85 L289.58,144.86 L290.24,144.87 L290.90,144.89 L291.56,144.90 L292.22,144.92 L292.88,144.93 L293.55,144.95 L294.21,144.96 L294.87,144.98 L295.53,144.99 L296.19,145.01 L296.85,145.03 L297.52,145.05 L298.18,145.06 L298.84,145.08 L299.50,145.10 L300.16,145.12 L300.82,145.14 L301.48,145.16 L302.15,145.19 L302.81,145.21 L303.47,145.24 L304.13,145.27 L304.79,145.30 L305.45,145.33 L306.12,145.36 L306.78,145.39 L307.44,145.43 L308.10,145.46 L308.76,145.50 L309.42,145.53 L310.08,145.57 L310.75,145.61 L311.41,145.65 L312.07,145.69 L312.73,145.73 L313.39,145.78 L314.05,145.82 L314.72,145.86 L315.38,145.91 L316.04,145.95 L316.70,146.00 L317.36,146.04 L318.02,146.09 L318.68,146.14 L319.35,146.18 L320.01,146.23 L320.67,146.28 L321.33,146.32 L321.99,146.37 L322.65,146.43 L323.32,146.48 L323.98,146.54 L324.64,146.61 L325.30,146.68 L325.96,146.77 L326.62,146.86 L327.28,146.95 L327.95,147.05 L328.61,147.16 L329.27,147.28 L329.93,147.39 L330.59,147.52 L331.25,147.65 L331.92,147.78 L332.58,147.92 L333.24,148.07 L333.90,148.21 L334.56,148.37 L335.22,148.52 L335.88,148.68 L336.55,148.84 L337.21,149.01 L337.87,149.17 L338.53,149.34 L339.19,149.51 L339.85,149.69 L340.52,149.86 L341.18,150.04 L341.84,150.22 L342.50,150.40 L343.16,150.58 L343.82,150.77 L344.48,150.97 L345.15,151.18 L345.81,151.39 L346.47,151.61 L347.13,151.83 L347.79,152.06 L348.45,152.29 L349.12,152.53 L349.78,152.78 L350.44,153.03 L351.10,153.28 L351.76,153.54 L352.42,153.80 L353.08,154.06 L353.75,154.33 L354.41,154.61 L355.07,154.88 L355.73,155.16 L356.39,155.44 L357.05,155.72 L357.72,156.01 L358.38,156.30 L359.04,156.59 L359.70,156.90 L360.36,157.21 L361.02,157.53 L361.68,157.86 L362.35,158.21 L363.01,158.57 L363.67,158.94 L364.33,159.33 L364.99,159.73 L365.65,160.17 L366.32,160.66 L366.98,161.18 L367.64,161.74 L368.30,162.30" stroke="#1e821e" fill="none"/>
<path d="M188.60,142.75L195.40,149.55M188.60,149.55L195.40,142.75" stroke="#1e821e" stroke-width="0.9" fill="none"/>
<path d="M210.10,142.10L216.90,148.90M210.10,148.90L216.90,142.10" stroke="#1e821e" stroke-width="0.9" fill="none"/>
<path d="M231.60,141.50L238.40,148.30M231.60,148.30L238.40,141.50" stroke="#1e821e" stroke-width="0.9" fill="none"/>
<path d="M253.10,141.20L259.90,148.00M253.10,148.00L259.90,141.20" stroke="#1e821e" stroke-width="0.9" fill="none"/>
<path d="M274.60,141.60L281.40,148.40M274.60,148.40L281.40,141.60" stroke="#1e821e" stroke-width="0.9" fill="none"/>
<path d="M296.10,142.10L302.90,148.90M296.10,148.90L302.90,142.10" stroke="#1e821e" stroke-width="0.9" fill="none"/>
<path d="M317.60,143.90L324.40,150.70M317.60,150.70L324.40,143.90" stroke="#1e821e" stroke-width="0.9" fill="none"/>
<path d="M339.10,148.60L345.90,155.40M339.10,155.40L345.90,148.60" stroke="#1e821e" stroke-width="0.9" fill="none"/>
<path d="M361.30,156.40L368.10,163.20M361.30,163.20L368.10,156.40" stroke="#1e821e" stroke-width="0.9" fill="none"/>
<path d="M170.50,146.45 L171.16,146.45 L171.82,146.45 L172.48,146.45 L173.15,146.45 L173.81,146.45 L174.47,146.45 L175.13,146.45 L175.79,146.45 L176.45,146.45 L177.12,146.45 L177.78,146.45 L178.44,146.45 L179.10,146.45 L179.76,146.45 L180.42,146.45 L181.08,146.45 L181.75,146.45 L182.41,146.45 L183.07,146.45 L183.73,146.45 L184.39,146.45 L185.05,146.45 L185.72,146.45 L186.38,146.45 L187.04,146.45 L187.70,146.45 L188.36,146.45 L189.02,146.45 L189.68,146.45 L190.35,146.45 L191.01,146.45 L191.67,146.45 L192.33,146.45 L192.99,146.45 L193.65,146.45 L194.32,146.45 L194.98,146.44 L195.64,146.44 L196.30,146.43 L196.96,146.43 L197.62,146.42 L198.28,146.42 L198.95,146.41 L199.61,146.40 L200.27,146.40 L200.93,146.39 L201.59,146.38 L202.25,146.37 L202.92,146.36 L203.58,146.35 L204.24,146.34 L204.90,146.33 L205.56,146.32 L206.22,146.31 L206.88,146.30 L207.55,146.29 L208.21,146.28 L208.87,146.27 L209.53,146.26 L210.19,146.25 L210.85,146.24 L211.52,146.23 L212.18,146.22 L212.84,146.21 L213.50,146.20 L214.16,146.19 L214.82,146.18 L215.48,146.17 L216.15,146.16 L216.81,146.15 L217.47,146.14 L218.13,146.13 L218.79,146.12 L219.45,146.11 L220.12,146.10 L220.78,146.09 L221.44,146.08 L222.10,146.06 L222.76,146.05 L223.42,146.04 L224.08,146.03 L224.75,146.02 L225.41,146.00 L226.07,145.99 L226.73,145.98 L227.39,145.97 L228.05,145.95 L228.72,145.94 L229.38,145.92 L230.04,145.91 L230.70,145.90 L231.36,145.88 L232.02,145.87 L232.68,145.85 L233.35,145.84 L234.01,145.82 L234.67,145.81 L235.33,145.79 L235.99,145.78 L236.65,145.76 L237.32,145.74 L237.98,145.73 L238.64,145.71 L239.30,145.69 L239.96,145.67 L240.62,145.65 L241.28,145.63 L241.95,145.62 L242.61,145.60 L243.27,145.58 L243.93,145.55 L244.59,145.53 L245.25,145.51 L245.92,145.49 L246.58,145.47 L247.24,145.45 L247.90,145.42 L248.56,145.40 L249.22,145.38 L249.88,145.36 L250.55,145.33 L251.21,145.31 L251.87,145.28 L252.53,145.26 L253.19,145.23 L253.85,145.21 L254.52,145.18 L255.18,145.15 L255.84,145.13 L256.50,145.10 L257.16,145.07 L257.82,145.04 L258.48,145.02 L259.15,144.99 L259.81,144.96 L260.47,144.93 L261.13,144.90 L261.79,144.87 L262.45,144.83 L263.12,144.80 L263.78,144.77 L264.44,144.74 L265.10,144.70 L265.76,144.67 L266.42,144.63 L267.08,144.60 L267.75,144.56 L268.41,144.52 L269.07,144.48 L269.73,144.45 L270.39,144.41 L271.05,144.37 L271.72,144.33 L272.38,144.28 L273.04,144.24 L273.70,144.20 L274.36,144.15 L275.02,144.11 L275.68,144.06 L276.35,144.02 L277.01,143.97 L277.67,143.92 L278.33,143.88 L278.99,143.82 L279.65,143.77 L280.32,143.71 L280.98,143.66 L281.64,143.60 L282.30,143.53 L282.96,143.47 L283.62,143.40 L284.28,143.33 L284.95,143.26 L285.61,143.19 L286.27,143.12 L286.93,143.05 L287.59,142.97 L288.25,142.90 L288.92,142.82 L289.58,142.74 L290.24,142.67 L290.90,142.59 L291.56,142.51 L292.22,142.43 L292.88,142.36 L293.55,142.28 L294.21,142.20 L294.87,142.12 L295.53,142.04 L296.19,141.97 L296.85,141.89 L297.52,141.82 L298.18,141.74 L298.84,141.67 L299.50,141.60 L300.16,141.53 L300.82,141.46 L301.48,141.39 L302.15,141.32 L302.81,141.25 L303.47,141.18 L304.13,141.11 L304.79,141.04 L305.45,140.97 L306.12,140.90 L306.78,140.83 L307.44,140.76 L308.10,140.69 L308.76,140.62 L309.42,140.55 L310.08,140.49 L310.75,140.42 L311.41,140.35 L312.07,140.28 L312.73,140.21 L313.39,140.13 L314.05,140.06 L314.72,139.99 L315.38,139.92 L316.04,139.85 L316.70,139.78 L317.36,139.71 L318.02,139.63 L318.68,139.56 L319.35,139.49 L320.01,139.41 L320.67,139.34 L321.33,139.26 L321.99,139.19 L322.65,139.11 L323.32,139.03 L323.98,138.95 L324.64,138.87 L325.30,138.79 L325.96,138.71 L326.62,138.63 L327.28,138.54 L327.95,138.46 L328.61,138.38 L329.27,138.29 L329.93,138.21 L330.59,138.13 L331.25,138.04 L331.92,137.96 L332.58,137.87 L333.24,137.79 L333.90,137.71 L334.56,137.63 L335.22,137.54 L335.88,137.46 L336.55,137.38 L337.21,137.30 L337.87,137.22 L338.53,137.14 L339.19,137.07 L339.85,136.99 L340.52,136.92 L341.18,136.84 L341.84,136.77 L342.50,136.70 L343.16,136.63 L343.82,136.55 L344.48,136.47 L345.15,136.39 L345.81,136.30 L346.47,136.22 L347.13,136.13 L347.79,136.05 L348.45,135.97 L349.12,135.90 L349.78,135.83 L350.44,135.77 L351.10,135.72 L351.76,135.67 L352.42,135.64 L353.08,135.61 L353.75,135.60 L354.41,135.60 L355.07,135.60 L355.73,135.61 L356.39,135.61 L357.05,135.62 L357.72,135.63 L358.38,135.64 L359.04,135.65 L359.70,135.66 L360.36,135.68 L361.02,135.69 L361.68,135.71 L362.35,135.73 L363.01,135.75 L363.67,135.77 L364.33,135.79 L364.99,135.82 L365.65,135.88 L366.32,135.95 L366.98,136.03 L367.64,136.11 L368.30,136.20" stroke="#000000" fill="none"/>
<circle cx="192.00" cy="146.45" r="3.3" fill="#000000"/>
<circle cx="213.50" cy="146.20" r="3.3" fill="#000000"/>
<circle cx="235.00" cy="145.80" r="3.3" fill="#000000"/>
<circle cx="256.50" cy="145.10" r="3.3" fill="#000000"/>
<circle cx="278.00" cy="143.80" r="3.3" fill="#000000"/>
<circle cx="299.50" cy="141.40" r="3.3" fill="#000000"/>
<circle cx="321.00" cy="138.80" r="3.3" fill="#000000"/>
<circle cx="342.50" cy="136.70" r="3.3" fill="#000000"/>
<circle cx="364.70" cy="138.80" r="3.3" fill="#000000"/>
</g>
<path d="M213.50,166.7v-4.2M213.50,85.3v4.2M256.50,166.7v-4.2M256.50,85.3v4.2M299.50,166.7v-4.2M299.50,85.3v4.2M342.50,166.7v-4.2M342.50,85.3v4.2M170.5,166.77h4.2M368.3,166.77h-4.2M170.5,146.40h4.2M368.3,146.40h-4.2M170.5,126.03h4.2M368.3,126.03h-4.2M170.5,105.66h4.2M368.3,105.66h-4.2M170.5,85.29h4.2M368.3,85.29h-4.2" stroke="#000" stroke-width="0.7" fill="none"/>
<rect x="170.5" y="85.3" width="197.8" height="81.39999999999999" fill="none" stroke="#000" stroke-width="0.8"/>










<path transform="translate(114.60,243.60) rotate(0)" d="M-3.3,0.9C-2.6,-1.3 -1.2,-1.3 0,0C1.2,1.3 2.6,1.3 3.3,-0.9" fill="none" stroke="#000" stroke-width="0.9"/><path d="M199.60,247.40L203.20,253.50L196.00,253.50Z" fill="#808080" stroke="none"/>
<path transform="translate(114.60,257.00) rotate(0)" d="M-3.3,0.9C-2.6,-1.3 -1.2,-1.3 0,0C1.2,1.3 2.6,1.3 3.3,-0.9" fill="none" stroke="#000" stroke-width="0.9"/><path d="M199.60,260.80L202.70,266.20L196.50,266.20Z" fill="none" stroke="#ff4500" stroke-width="0.9"/>
<path transform="translate(114.60,270.20) rotate(0)" d="M-3.3,0.9C-2.6,-1.3 -1.2,-1.3 0,0C1.2,1.3 2.6,1.3 3.3,-0.9" fill="none" stroke="#000" stroke-width="0.9"/><path d="M196.20,277.10H203.00M199.60,273.70V280.50" stroke="#ff0000" stroke-width="0.75" fill="none"/>
<path transform="translate(272.00,243.60) rotate(0)" d="M-3.3,0.9C-2.6,-1.3 -1.2,-1.3 0,0C1.2,1.3 2.6,1.3 3.3,-0.9" fill="none" stroke="#000" stroke-width="0.9"/><path d="M353.20,250.50H360.20M356.70,247.00V254.00" stroke="#0000ff" stroke-width="0.9" fill="none"/><path d="M353.38,247.18L360.02,253.82M353.38,253.82L360.02,247.18" stroke="#0000ff" stroke-width="0.9" fill="none"/>
<path transform="translate(272.00,257.00) rotate(0)" d="M-3.3,0.9C-2.6,-1.3 -1.2,-1.3 0,0C1.2,1.3 2.6,1.3 3.3,-0.9" fill="none" stroke="#000" stroke-width="0.9"/><path d="M353.30,260.50L360.10,267.30M353.30,267.30L360.10,260.50" stroke="#1e821e" stroke-width="0.9" fill="none"/>
<path transform="translate(272.00,270.20) rotate(0)" d="M-3.3,0.9C-2.6,-1.3 -1.2,-1.3 0,0C1.2,1.3 2.6,1.3 3.3,-0.9" fill="none" stroke="#000" stroke-width="0.9"/><rect x="353.60" y="274.00" width="6.20" height="6.20" stroke="#ff00ff" stroke-width="0.9" fill="none"/>
<g opacity="0.99"><text transform="translate(52.60,215.90) scale(1.12,1)" text-anchor="middle" font-size="9.6px">0</text><text transform="translate(89.20,215.90) scale(1.12,1)" text-anchor="middle" font-size="9.6px">0.1</text><text transform="translate(125.80,215.90) scale(1.12,1)" text-anchor="middle" font-size="9.6px">0.2</text><text transform="translate(162.40,215.90) scale(1.12,1)" text-anchor="middle" font-size="9.6px">0.3</text><text transform="translate(199.00,215.90) scale(1.12,1)" text-anchor="middle" font-size="9.6px">0.4</text><text transform="translate(235.60,215.90) scale(1.12,1)" text-anchor="middle" font-size="9.6px">0.5</text><text transform="translate(272.20,215.90) scale(1.12,1)" text-anchor="middle" font-size="9.6px">0.6</text><text transform="translate(308.80,215.90) scale(1.12,1)" text-anchor="middle" font-size="9.6px">0.7</text><text transform="translate(345.40,215.90) scale(1.12,1)" text-anchor="middle" font-size="9.6px">0.8</text><text transform="translate(382.00,215.90) scale(1.12,1)" text-anchor="middle" font-size="9.6px">0.9</text><text transform="translate(44.90,32.70) scale(1.12,1)" text-anchor="end" font-size="9.6px">1</text><text transform="translate(45.10,63.68) scale(1.08,1)" text-anchor="end" font-size="9.6px">10<tspan font-size="7.9px" dy="-3.7">-1</tspan></text><text transform="translate(45.10,92.36) scale(1.08,1)" text-anchor="end" font-size="9.6px">10<tspan font-size="7.9px" dy="-3.7">-2</tspan></text><text transform="translate(45.10,121.04) scale(1.08,1)" text-anchor="end" font-size="9.6px">10<tspan font-size="7.9px" dy="-3.7">-3</tspan></text><text transform="translate(45.10,149.72) scale(1.08,1)" text-anchor="end" font-size="9.6px">10<tspan font-size="7.9px" dy="-3.7">-4</tspan></text><text transform="translate(45.10,178.40) scale(1.08,1)" text-anchor="end" font-size="9.6px">10<tspan font-size="7.9px" dy="-3.7">-5</tspan></text><text transform="translate(220.00,232.30) scale(1.16,1)" text-anchor="middle" font-size="9.6px">χ [π]</text><text transform="translate(19.6,119.4) rotate(-90) translate(0.00,0.00) scale(1.12,1)" text-anchor="start" font-size="9.6px">-</text><text transform="translate(19.6,119.4) rotate(-90) translate(3.20,0.00) scale(1.12,1)" text-anchor="start" font-size="9.6px">F</text><text transform="translate(19.6,119.4) rotate(-90) translate(8.50,2.20) scale(1.12,1)" text-anchor="start" font-size="7.9px">1</text><text transform="translate(19.6,119.4) rotate(-90) translate(15.60,-0.60) scale(1.12,1)" text-anchor="start" font-size="9.6px">(χ)</text><text transform="translate(171.60,181.30) scale(1.12,1)" text-anchor="middle" font-size="9.6px">0</text><text transform="translate(214.60,181.30) scale(1.12,1)" text-anchor="middle" font-size="9.6px">0.2</text><text transform="translate(257.60,181.30) scale(1.12,1)" text-anchor="middle" font-size="9.6px">0.4</text><text transform="translate(300.60,181.30) scale(1.12,1)" text-anchor="middle" font-size="9.6px">0.6</text><text transform="translate(343.60,181.30) scale(1.12,1)" text-anchor="middle" font-size="9.6px">0.8</text><text transform="translate(164.00,170.17) scale(1.12,1)" text-anchor="end" font-size="9.6px">-1</text><text transform="translate(164.00,149.80) scale(1.12,1)" text-anchor="end" font-size="9.6px">0</text><text transform="translate(164.00,129.43) scale(1.12,1)" text-anchor="end" font-size="9.6px">1</text><text transform="translate(164.00,109.06) scale(1.12,1)" text-anchor="end" font-size="9.6px">2</text><text transform="translate(164.00,88.69) scale(1.12,1)" text-anchor="end" font-size="9.6px">3</text><text transform="translate(96.60,252.90) scale(0.95,1)" text-anchor="start" font-size="9.6px">Re</text><text transform="translate(111.80,252.90) scale(1.08,1)" text-anchor="start" font-size="9.6px">F</text><text transform="translate(117.50,255.10) scale(1.12,1)" text-anchor="start" font-size="7.9px">1</text><text transform="translate(122.10,252.90) scale(1.09,1)" text-anchor="start" font-size="9.6px">, V=</text><text transform="translate(141.50,252.90) scale(1.07,1)" text-anchor="start" font-size="9.6px">0.4</text><text transform="translate(155.90,252.90) scale(1.14,1)" text-anchor="start" font-size="9.6px">, J=</text><text transform="translate(188.50,252.90) scale(1.07,1)" text-anchor="end" font-size="9.6px">0.3</text><text transform="translate(96.60,266.30) scale(1.06,1)" text-anchor="start" font-size="9.6px">Im</text><text transform="translate(111.80,266.30) scale(1.08,1)" text-anchor="start" font-size="9.6px">F</text><text transform="translate(117.50,268.50) scale(1.12,1)" text-anchor="start" font-size="7.9px">1</text><text transform="translate(122.10,266.30) scale(1.09,1)" text-anchor="start" font-size="9.6px">, V=</text><text transform="translate(141.50,266.30) scale(1.07,1)" text-anchor="start" font-size="9.6px">0.4</text><text transform="translate(155.90,266.30) scale(1.14,1)" text-anchor="start" font-size="9.6px">, J=</text><text transform="translate(188.50,266.30) scale(1.07,1)" text-anchor="end" font-size="9.6px">0.3</text><text transform="translate(96.60,279.50) scale(0.95,1)" text-anchor="start" font-size="9.6px">Re</text><text transform="translate(111.80,279.50) scale(1.08,1)" text-anchor="start" font-size="9.6px">F</text><text transform="translate(117.50,281.70) scale(1.12,1)" text-anchor="start" font-size="7.9px">1</text><text transform="translate(122.10,279.50) scale(1.09,1)" text-anchor="start" font-size="9.6px">, V=</text><text transform="translate(141.50,279.50) scale(1.07,1)" text-anchor="start" font-size="9.6px">0.2</text><text transform="translate(155.90,279.50) scale(1.14,1)" text-anchor="start" font-size="9.6px">, J=</text><text transform="translate(188.50,279.50) scale(1.07,1)" text-anchor="end" font-size="9.6px">0.3</text><text transform="translate(254.00,252.90) scale(1.06,1)" text-anchor="start" font-size="9.6px">Im</text><text transform="translate(269.20,252.90) scale(1.08,1)" text-anchor="start" font-size="9.6px">F</text><text transform="translate(274.90,255.10) scale(1.12,1)" text-anchor="start" font-size="7.9px">1</text><text transform="translate(279.50,252.90) scale(1.09,1)" text-anchor="start" font-size="9.6px">, V=</text><text transform="translate(298.90,252.90) scale(1.07,1)" text-anchor="start" font-size="9.6px">0.2</text><text transform="translate(313.30,252.90) scale(1.14,1)" text-anchor="start" font-size="9.6px">, J=</text><text transform="translate(345.90,252.90) scale(1.07,1)" text-anchor="end" font-size="9.6px">0.3</text><text transform="translate(254.00,266.30) scale(0.95,1)" text-anchor="start" font-size="9.6px">Re</text><text transform="translate(269.20,266.30) scale(1.08,1)" text-anchor="start" font-size="9.6px">F</text><text transform="translate(274.90,268.50) scale(1.12,1)" text-anchor="start" font-size="7.9px">1</text><text transform="translate(279.50,266.30) scale(1.09,1)" text-anchor="start" font-size="9.6px">, V=</text><text transform="translate(298.90,266.30) scale(1.07,1)" text-anchor="start" font-size="9.6px">0.2</text><text transform="translate(313.30,266.30) scale(1.14,1)" text-anchor="start" font-size="9.6px">, J=</text><text transform="translate(345.90,266.30) scale(1.07,1)" text-anchor="end" font-size="9.6px">0.2</text><text transform="translate(254.00,279.50) scale(1.06,1)" text-anchor="start" font-size="9.6px">Im</text><text transform="translate(269.20,279.50) scale(1.08,1)" text-anchor="start" font-size="9.6px">F</text><text transform="translate(274.90,281.70) scale(1.12,1)" text-anchor="start" font-size="7.9px">1</text><text transform="translate(279.50,279.50) scale(1.09,1)" text-anchor="start" font-size="9.6px">, V=</text><text transform="translate(298.90,279.50) scale(1.07,1)" text-anchor="start" font-size="9.6px">0.2</text><text transform="translate(313.30,279.50) scale(1.14,1)" text-anchor="start" font-size="9.6px">, J=</text><text transform="translate(345.90,279.50) scale(1.07,1)" text-anchor="end" font-size="9.6px">0.2</text></g>
</svg>
</body></html>
